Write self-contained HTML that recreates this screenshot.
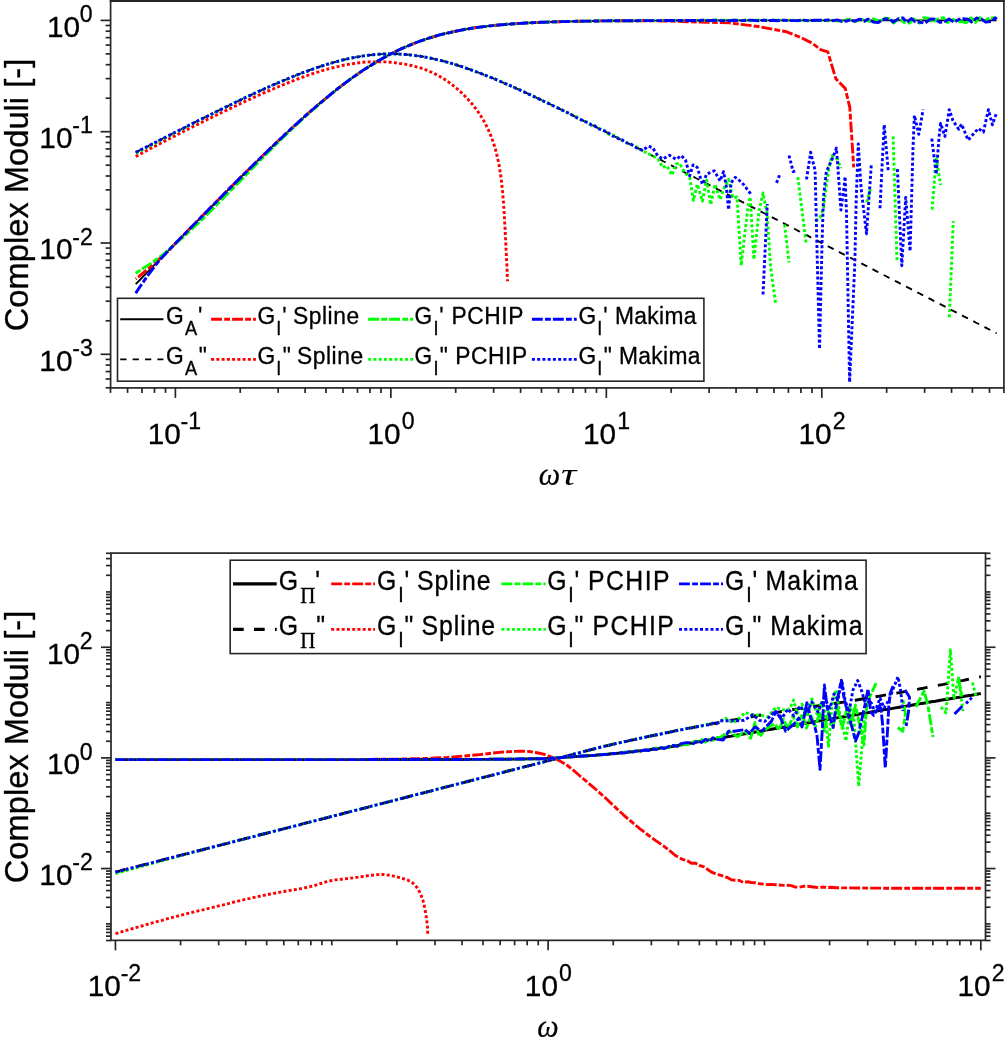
<!DOCTYPE html>
<html lang="en"><head><meta charset="utf-8"><title>Complex Moduli</title>
<style>html,body{margin:0;padding:0;background:#fff}svg{display:block}text{fill:#000;stroke:#000;stroke-width:0.3px;stroke-linejoin:round}</style></head><body>
<svg width="1006" height="1037" viewBox="0 0 1006 1037">
<rect x="0" y="0" width="1006" height="1037" fill="#fff"/>
<g id="curves-top">
<path d="M135.7 284.2 L138.7 281.1 L141.7 278 L144.7 274.9 L147.7 271.8 L150.7 268.8 L153.7 265.7 L156.7 262.6 L159.7 259.5 L162.7 256.5 L165.7 253.4 L168.7 250.3 L171.7 247.2 L174.7 244.2 L177.7 241.1 L180.7 238 L183.7 235 L186.7 231.9 L189.7 228.8 L192.7 225.8 L195.7 222.7 L198.7 219.7 L201.7 216.6 L204.7 213.6 L207.7 210.6 L210.7 207.5 L213.7 204.5 L216.7 201.5 L219.7 198.4 L222.7 195.4 L225.7 192.4 L228.7 189.4 L231.7 186.4 L234.7 183.4 L237.7 180.4 L240.7 177.4 L243.7 174.4 L246.7 171.5 L249.7 168.5 L252.7 165.6 L255.7 162.6 L258.7 159.7 L261.7 156.8 L264.7 153.9 L267.7 151 L270.7 148.1 L273.7 145.2 L276.7 142.4 L279.7 139.5 L282.7 136.7 L285.7 133.9 L288.7 131.1 L291.7 128.3 L294.7 125.5 L297.7 122.8 L300.7 120.1 L303.7 117.4 L306.7 114.7 L309.7 112.1 L312.7 109.5 L315.7 106.9 L318.7 104.3 L321.7 101.8 L324.7 99.3 L327.7 96.8 L330.7 94.3 L333.7 91.9 L336.7 89.5 L339.7 87.2 L342.7 84.9 L345.7 82.6 L348.7 80.4 L351.7 78.2 L354.7 76.1 L357.7 74 L360.7 71.9 L363.7 69.9 L366.7 68 L369.7 66.1 L372.7 64.2 L375.7 62.4 L378.7 60.6 L381.7 58.9 L384.7 57.2 L387.7 55.6 L390.7 54 L393.7 52.5 L396.7 51 L399.7 49.5 L402.7 48.2 L405.7 46.8 L408.7 45.6 L411.7 44.3 L414.7 43.1 L417.7 42 L420.7 40.9 L423.7 39.9 L426.7 38.8 L429.7 37.9 L432.7 37 L435.7 36.1 L438.7 35.2 L441.7 34.4 L444.7 33.7 L447.7 33 L450.7 32.3 L453.7 31.6 L456.7 31 L459.7 30.4 L462.7 29.8 L465.7 29.3 L468.7 28.8 L471.7 28.3 L474.7 27.8 L477.7 27.4 L480.7 27 L483.7 26.6 L486.7 26.3 L489.7 25.9 L492.7 25.6 L495.7 25.3 L498.7 25 L501.7 24.7 L504.7 24.5 L507.7 24.2 L510.7 24 L513.7 23.8 L516.7 23.6 L519.7 23.4 L522.7 23.2 L525.7 23 L528.7 22.9 L531.7 22.7 L534.7 22.6 L537.7 22.5 L540.7 22.3 L543.7 22.2 L546.7 22.1 L549.7 22 L552.7 21.9 L555.7 21.8 L558.7 21.7 L561.7 21.6 L564.7 21.6 L567.7 21.5 L570.7 21.4 L573.7 21.4 L576.7 21.3 L579.7 21.2 L582.7 21.2 L585.7 21.1 L588.7 21.1 L591.7 21.1 L594.7 21 L597.7 21 L600.7 20.9 L603.7 20.9 L606.7 20.9 L609.7 20.8 L612.7 20.8 L615.7 20.8 L618.7 20.8 L621.7 20.7 L624.7 20.7 L627.7 20.7 L630.7 20.7 L633.7 20.7 L636.7 20.7 L639.7 20.6 L642.7 20.6 L645.7 20.6 L648.7 20.6 L651.7 20.6 L654.7 20.6 L657.7 20.6 L660.7 20.6 L663.7 20.5 L666.7 20.5 L669.7 20.5 L672.7 20.5 L675.7 20.5 L678.7 20.5 L681.7 20.5 L684.7 20.5 L687.7 20.5 L690.7 20.5 L693.7 20.5 L696.7 20.5 L699.7 20.5 L702.7 20.5 L705.7 20.5 L708.7 20.5 L711.7 20.5 L714.7 20.4 L717.7 20.4 L720.7 20.4 L723.7 20.4 L726.7 20.4 L729.7 20.4 L732.7 20.4 L735.7 20.4 L738.7 20.4 L741.7 20.4 L744.7 20.4 L747.7 20.4 L750.7 20.4 L753.7 20.4 L756.7 20.4 L759.7 20.4 L762.7 20.4 L765.7 20.4 L768.7 20.4 L771.7 20.4 L774.7 20.4 L777.7 20.4 L780.7 20.4 L783.7 20.4 L786.7 20.4 L789.7 20.4 L792.7 20.4 L795.7 20.4 L798.7 20.4 L801.7 20.4 L804.7 20.4 L807.7 20.4 L810.7 20.4 L813.7 20.4 L816.7 20.4 L819.7 20.4 L822.7 20.4 L825.7 20.4 L828.7 20.4 L831.7 20.4 L834.7 20.4 L837.7 20.4 L840.7 20.4 L843.7 20.4 L846.7 20.4 L849.7 20.4 L852.7 20.4 L855.7 20.4 L858.7 20.4 L861.7 20.4 L864.7 20.4 L867.7 20.4 L870.7 20.4 L873.7 20.4 L876.7 20.4 L879.7 20.4 L882.7 20.4 L885.7 20.4 L888.7 20.4 L891.7 20.4 L894.7 20.4 L897.7 20.4 L900.7 20.4 L903.7 20.4 L906.7 20.4 L909.7 20.4 L912.7 20.4 L915.7 20.4 L918.7 20.4 L921.7 20.4 L924.7 20.4 L927.7 20.4 L930.7 20.4 L933.7 20.4 L936.7 20.4 L939.7 20.4 L942.7 20.4 L945.7 20.4 L948.7 20.4 L951.7 20.4 L954.7 20.4 L957.7 20.4 L960.7 20.4 L963.7 20.4 L966.7 20.4 L969.7 20.4 L972.7 20.4 L975.7 20.4 L978.7 20.4 L981.7 20.4 L984.7 20.4 L987.7 20.4 L990.7 20.4 L993.7 20.4 L996.6 20.4" fill="none" stroke="#000" stroke-width="1.9" stroke-linejoin="round"/>
<path d="M135.7 152.4 L138.7 150.9 L141.7 149.3 L144.7 147.8 L147.7 146.3 L150.7 144.7 L153.7 143.2 L156.7 141.7 L159.7 140.1 L162.7 138.6 L165.7 137.1 L168.7 135.6 L171.7 134 L174.7 132.5 L177.7 131 L180.7 129.5 L183.7 128 L186.7 126.5 L189.7 124.9 L192.7 123.4 L195.7 121.9 L198.7 120.4 L201.7 118.9 L204.7 117.4 L207.7 116 L210.7 114.5 L213.7 113 L216.7 111.5 L219.7 110 L222.7 108.6 L225.7 107.1 L228.7 105.6 L231.7 104.2 L234.7 102.7 L237.7 101.3 L240.7 99.9 L243.7 98.4 L246.7 97 L249.7 95.6 L252.7 94.2 L255.7 92.8 L258.7 91.4 L261.7 90.1 L264.7 88.7 L267.7 87.4 L270.7 86 L273.7 84.7 L276.7 83.4 L279.7 82.1 L282.7 80.8 L285.7 79.6 L288.7 78.3 L291.7 77.1 L294.7 75.9 L297.7 74.7 L300.7 73.5 L303.7 72.4 L306.7 71.3 L309.7 70.2 L312.7 69.1 L315.7 68.1 L318.7 67 L321.7 66 L324.7 65.1 L327.7 64.2 L330.7 63.3 L333.7 62.4 L336.7 61.6 L339.7 60.8 L342.7 60 L345.7 59.3 L348.7 58.6 L351.7 58 L354.7 57.4 L357.7 56.9 L360.7 56.4 L363.7 55.9 L366.7 55.5 L369.7 55.1 L372.7 54.8 L375.7 54.5 L378.7 54.3 L381.7 54.1 L384.7 54 L387.7 53.9 L390.7 53.9 L393.7 53.9 L396.7 54 L399.7 54.1 L402.7 54.3 L405.7 54.5 L408.7 54.8 L411.7 55.1 L414.7 55.5 L417.7 55.9 L420.7 56.3 L423.7 56.8 L426.7 57.4 L429.7 58 L432.7 58.6 L435.7 59.3 L438.7 60 L441.7 60.7 L444.7 61.5 L447.7 62.3 L450.7 63.2 L453.7 64.1 L456.7 65 L459.7 66 L462.7 66.9 L465.7 68 L468.7 69 L471.7 70.1 L474.7 71.2 L477.7 72.3 L480.7 73.4 L483.7 74.6 L486.7 75.8 L489.7 77 L492.7 78.2 L495.7 79.4 L498.7 80.7 L501.7 82 L504.7 83.3 L507.7 84.6 L510.7 85.9 L513.7 87.2 L516.7 88.6 L519.7 89.9 L522.7 91.3 L525.7 92.7 L528.7 94.1 L531.7 95.5 L534.7 96.9 L537.7 98.3 L540.7 99.7 L543.7 101.2 L546.7 102.6 L549.7 104 L552.7 105.5 L555.7 107 L558.7 108.4 L561.7 109.9 L564.7 111.4 L567.7 112.8 L570.7 114.3 L573.7 115.8 L576.7 117.3 L579.7 118.8 L582.7 120.3 L585.7 121.8 L588.7 123.3 L591.7 124.8 L594.7 126.3 L597.7 127.8 L600.7 129.3 L603.7 130.9 L606.7 132.4 L609.7 133.9 L612.7 135.4 L615.7 136.9 L618.7 138.5 L621.7 140 L624.7 141.5 L627.7 143 L630.7 144.6 L633.7 146.1 L636.7 147.6 L639.7 149.2 L642.7 150.7 L645.7 152.2 L648.7 153.8 L651.7 155.3 L654.7 156.9 L657.7 158.4 L660.7 159.9 L663.7 161.5 L666.7 163 L669.7 164.6 L672.7 166.1 L675.7 167.6 L678.7 169.2 L681.7 170.7 L684.7 172.3 L687.7 173.8 L690.7 175.4 L693.7 176.9 L696.7 178.5 L699.7 180 L702.7 181.5 L705.7 183.1 L708.7 184.6 L711.7 186.2 L714.7 187.7 L717.7 189.3 L720.7 190.8 L723.7 192.4 L726.7 193.9 L729.7 195.5 L732.7 197 L735.7 198.6 L738.7 200.1 L741.7 201.7 L744.7 203.2 L747.7 204.7 L750.7 206.3 L753.7 207.8 L756.7 209.4 L759.7 210.9 L762.7 212.5 L765.7 214 L768.7 215.6 L771.7 217.1 L774.7 218.7 L777.7 220.2 L780.7 221.8 L783.7 223.3 L786.7 224.9 L789.7 226.4 L792.7 228 L795.7 229.5 L798.7 231.1 L801.7 232.6 L804.7 234.2 L807.7 235.7 L810.7 237.3 L813.7 238.8 L816.7 240.4 L819.7 241.9 L822.7 243.5 L825.7 245 L828.7 246.6 L831.7 248.1 L834.7 249.7 L837.7 251.2 L840.7 252.8 L843.7 254.3 L846.7 255.9 L849.7 257.4 L852.7 259 L855.7 260.5 L858.7 262.1 L861.7 263.6 L864.7 265.2 L867.7 266.7 L870.7 268.3 L873.7 269.8 L876.7 271.4 L879.7 272.9 L882.7 274.5 L885.7 276 L888.7 277.6 L891.7 279.1 L894.7 280.7 L897.7 282.2 L900.7 283.8 L903.7 285.3 L906.7 286.9 L909.7 288.4 L912.7 289.9 L915.7 291.5 L918.7 293 L921.7 294.6 L924.7 296.1 L927.7 297.7 L930.7 299.2 L933.7 300.8 L936.7 302.3 L939.7 303.9 L942.7 305.4 L945.7 307 L948.7 308.5 L951.7 310.1 L954.7 311.6 L957.7 313.2 L960.7 314.7 L963.7 316.3 L966.7 317.8 L969.7 319.4 L972.7 320.9 L975.7 322.5 L978.7 324 L981.7 325.6 L984.7 327.1 L987.7 328.7 L990.7 330.2 L993.7 331.8 L996.6 333.3" fill="none" stroke="#000" stroke-width="1.9" stroke-linejoin="round" stroke-dasharray="6.6 6"/>
<path d="M135.7 279 L138.7 276.6 L141.7 274.2 L144.7 271.7 L147.7 269.2 L150.7 266.7 L153.7 264.1 L156.7 261.4 L159.7 258.7 L162.7 255.9 L165.7 253.1 L168.7 250.2 L171.7 247.2 L174.7 244.2 L177.7 241.1 L180.7 238 L183.7 235 L186.7 231.9 L189.7 228.8 L192.7 225.8 L195.7 222.7 L198.7 219.7 L201.7 216.6 L204.7 213.6 L207.7 210.6 L210.7 207.5 L213.7 204.5 L216.7 201.5 L219.7 198.4 L222.7 195.4 L225.7 192.4 L228.7 189.4 L231.7 186.4 L234.7 183.4 L237.7 180.4 L240.7 177.4 L243.7 174.4 L246.7 171.5 L249.7 168.5 L252.7 165.6 L255.7 162.6 L258.7 159.7 L261.7 156.8 L264.7 153.9 L267.7 151 L270.7 148.1 L273.7 145.2 L276.7 142.4 L279.7 139.5 L282.7 136.7 L285.7 133.9 L288.7 131.1 L291.7 128.3 L294.7 125.5 L297.7 122.8 L300.7 120.1 L303.7 117.4 L306.7 114.7 L309.7 112.1 L312.7 109.5 L315.7 106.9 L318.7 104.3 L321.7 101.8 L324.7 99.3 L327.7 96.8 L330.7 94.3 L333.7 91.9 L336.7 89.5 L339.7 87.2 L342.7 84.9 L345.7 82.6 L348.7 80.4 L351.7 78.2 L354.7 76.1 L357.7 74 L360.7 71.9 L363.7 69.9 L366.7 68 L369.7 66.1 L372.7 64.2 L375.7 62.4 L378.7 60.6 L381.7 58.9 L384.7 57.2 L387.7 55.6 L390.7 54 L393.7 52.5 L396.7 51 L399.7 49.5 L402.7 48.2 L405.7 46.8 L408.7 45.6 L411.7 44.3 L414.7 43.1 L417.7 42 L420.7 40.9 L423.7 39.9 L426.7 38.8 L429.7 37.9 L432.7 37 L435.7 36.1 L438.7 35.2 L441.7 34.4 L444.7 33.7 L447.7 33 L450.7 32.3 L453.7 31.6 L456.7 31 L459.7 30.4 L462.7 29.8 L465.7 29.3 L468.7 28.8 L471.7 28.3 L474.7 27.8 L477.7 27.4 L480.7 27 L483.7 26.6 L486.7 26.3 L489.7 25.9 L492.7 25.6 L495.7 25.3 L498.7 25 L501.7 24.7 L504.7 24.5 L507.7 24.2 L510.7 24 L513.7 23.8 L516.7 23.6 L519.7 23.4 L522.7 23.2 L525.7 23 L528.7 22.9 L531.7 22.7 L534.7 22.6 L537.7 22.5 L540.7 22.3 L543.7 22.2 L546.7 22.1 L549.7 22 L552.7 21.9 L555.7 21.8 L558.7 21.7 L561.7 21.6 L564.7 21.6 L567.7 21.5 L570.7 21.4 L573.7 21.4 L576.7 21.3 L579.7 21.2 L582.7 21.2 L585.7 21.1 L588.7 21.1 L591.7 21.1 L594.7 21 L597.7 21 L600.7 20.9 L603.7 20.9 L606.7 20.9 L609.7 20.8 L612.7 20.8 L615.7 20.8 L618.7 20.8 L621.7 20.7 L624.7 20.7 L627.7 20.7 L630.7 20.7 L633.7 20.7 L636.7 20.7 L639.7 20.6 L665 21 L690 21.8 L729.4 22.9 L758 26.5 L786.6 31.8 L800.9 37.6 L811.7 42.9 L820.6 49.7 L827.8 51.9 L835.8 78.7 L845.3 88.6 L849.8 107.4 L853.7 167.3" fill="none" stroke="#f00" stroke-width="2.9" stroke-linejoin="round" stroke-dasharray="10.9 2.2 5.8 2.1" stroke-dashoffset="-3"/>
<path d="M135.7 156.5 L138.8 154.9 L141.8 153.2 L144.9 151.6 L148 149.9 L151 148.3 L154.1 146.7 L157.2 145.1 L160.3 143.5 L163.4 141.8 L166.5 140.2 L169.5 138.6 L172.6 137 L175.7 135.5 L178.8 133.9 L181.9 132.3 L185 130.7 L188.1 129.1 L191.2 127.6 L194.3 126 L197.5 124.5 L200.6 122.9 L203.7 121.4 L206.8 119.8 L209.9 118.3 L213.1 116.8 L216.2 115.2 L219.3 113.7 L222.4 112.2 L225.6 110.7 L228.7 109.2 L231.9 107.7 L235 106.2 L238.1 104.7 L241.3 103.2 L244.4 101.8 L247.6 100.3 L250.8 98.9 L253.9 97.4 L257.1 96 L260.3 94.5 L263.4 93.1 L266.6 91.7 L269.8 90.3 L273 89 L276.2 87.6 L279.4 86.3 L282.7 85 L285.9 83.7 L289.1 82.4 L292.3 81.1 L295.6 79.8 L298.8 78.6 L302.1 77.4 L305.4 76.2 L308.6 75 L311.9 73.9 L315.2 72.8 L318.6 71.8 L321.9 70.7 L325.2 69.8 L328.6 68.8 L331.9 68 L335.3 67.1 L338.7 66.3 L342.1 65.5 L345.5 64.9 L348.9 64.3 L352.4 63.7 L355.8 63.2 L359.3 62.7 L362.7 62.3 L366.2 62 L369.7 61.9 L373.2 61.9 L376.6 61.9 L380.1 61.9 L383.6 61.9 L387.1 61.9 L390.5 62.2 L394 62.6 L397.5 63.1 L400.9 63.6 L404.3 64.1 L407.8 64.7 L411.2 65.5 L414.6 66.3 L417.9 67.2 L421.2 68.1 L424.5 69.3 L427.8 70.6 L431 72 L434.1 73.4 L437.2 75 L440.3 76.7 L443.3 78.5 L446.2 80.4 L449 82.4 L451.8 84.5 L454.5 86.6 L457.2 88.9 L459.8 91.2 L462.4 93.6 L464.8 96 L467.2 98.5 L469.6 101.1 L471.9 103.7 L474.1 106.5 L476.2 109.2 L478.2 112 L480.1 114.9 L482 117.9 L483.8 120.9 L485.5 124 L487 127.1 L488.5 130.2 L489.9 133.4 L491.2 136.6 L492.4 139.9 L493.5 143.2 L494.6 146.5 L495.6 149.9 L496.4 153.2 L497.2 156.6 L498 160 L498.7 163.4 L499.4 166.8 L499.9 170.3 L500.5 173.7 L500.9 177.2 L501.4 180.6 L501.8 184.1 L502.1 187.5 L502.5 191 L502.8 194.5 L503.1 197.9 L503.4 201.4 L503.6 204.9 L503.9 208.3 L504.1 211.8 L504.3 215.3 L504.5 218.8 L504.7 222.2 L504.9 225.7 L505.1 229.2 L505.2 232.7 L505.4 236.1 L505.6 239.6 L505.8 243.1 L505.9 246.5 L506.1 250 L506.3 253.5 L506.4 257 L506.6 260.4 L506.8 263.9 L506.9 267.4 L507.1 270.9 L507.2 274.3 L507.4 277.8 L507.5 281.3" fill="none" stroke="#f00" stroke-width="2.9" stroke-linejoin="round" stroke-dasharray="3 2.25"/>
<path d="M135.7 273.2 L138.7 271.2 L141.7 269.3 L144.7 267.3 L147.7 265.4 L150.7 263.4 L153.7 261.3 L156.7 259.1 L159.7 257 L162.7 254.9 L165.7 252.3 L168.7 249.7 L171.7 247 L174.7 244.4 L177.7 241.8 L180.7 239.2 L183.7 236.6 L186.7 233.9 L189.7 231.1 L192.7 228.3 L195.7 225.5 L198.7 222.8 L201.7 219.9 L204.7 216.9 L207.7 213.9 L210.7 210.9 L213.7 207.9 L216.7 204.8 L219.7 201.8 L222.7 198.7 L225.7 195.6 L228.7 192.6 L231.7 189.5 L234.7 186.5 L237.7 183.4 L240.7 180.4 L243.7 177.3 L246.7 174.2 L249.7 171.1 L252.7 168 L255.7 164.9 L258.7 161.8 L261.7 158.8 L264.7 155.8 L267.7 152.8 L270.7 149.8 L273.7 146.8 L276.7 143.8 L279.7 140.8 L282.7 137.9 L285.7 135 L288.7 132.1 L291.7 129.2 L294.7 126.4 L297.7 123.6 L300.7 120.8 L303.7 118.1 L306.7 115.3 L309.7 112.6 L312.7 109.9 L315.7 107.3 L318.7 104.6 L321.7 102 L324.7 99.5 L327.7 97 L330.7 94.5 L333.7 92 L336.7 89.6 L339.7 87.2 L342.7 84.9 L345.7 82.6 L348.7 80.4 L351.7 78.2 L354.7 76.1 L357.7 74 L360.7 71.9 L363.7 69.9 L366.7 68 L369.7 66.1 L372.7 64.2 L375.7 62.4 L378.7 60.6 L381.7 58.9 L384.7 57.2 L387.7 55.6 L390.7 54 L393.7 52.5 L396.7 51 L399.7 49.5 L402.7 48.2 L405.7 46.8 L408.7 45.6 L411.7 44.3 L414.7 43.1 L417.7 42 L420.7 40.9 L423.7 39.9 L426.7 38.8 L429.7 37.9 L432.7 37 L435.7 36.1 L438.7 35.2 L441.7 34.4 L444.7 33.7 L447.7 33 L450.7 32.3 L453.7 31.6 L456.7 31 L459.7 30.4 L462.7 29.8 L465.7 29.3 L468.7 28.8 L471.7 28.3 L474.7 27.8 L477.7 27.4 L480.7 27 L483.7 26.6 L486.7 26.3 L489.7 25.9 L492.7 25.6 L495.7 25.3 L498.7 25 L501.7 24.7 L504.7 24.5 L507.7 24.2 L510.7 24 L513.7 23.8 L516.7 23.6 L519.7 23.4 L522.7 23.2 L525.7 23 L528.7 22.9 L531.7 22.7 L534.7 22.6 L537.7 22.5 L540.7 22.3 L543.7 22.2 L546.7 22.1 L549.7 22 L552.7 21.9 L555.7 21.8 L558.7 21.7 L561.7 21.6 L564.7 21.6 L567.7 21.5 L570.7 21.4 L573.7 21.4 L576.7 21.3 L579.7 21.2 L582.7 21.2 L585.7 21.1 L588.7 21.1 L591.7 21.1 L594.7 21 L597.7 21 L600.7 20.9 L603.7 20.9 L606.7 20.9 L609.7 20.8 L612.7 20.8 L615.7 20.8 L618.7 20.8 L621.7 20.7 L624.7 20.7 L627.7 20.7 L630.7 20.7 L633.7 20.7 L636.7 20.7 L639.7 20.6 L642.7 20.6 L645.7 20.6 L648.7 20.6 L651.7 20.6 L654.7 20.6 L657.7 20.6 L660.7 20.6 L663.7 20.5 L666.7 20.5 L669.7 20.5 L672.7 20.5 L675.7 20.5 L678.7 20.5 L681.7 20.5 L684.7 20.5 L687.7 20.5 L690.7 20.5 L693.7 20.5 L696.7 20.5 L699.7 20.5 L704 20.3 L708.7 20.7 L713.4 20.2 L719.2 20.1 L723 20.1 L726.9 20.6 L730.7 20.3 L736.1 20.2 L740.4 20.6 L745.7 20.3 L750.4 20.8 L755.7 20.1 L761.5 20.2 L765.6 20.3 L770.1 20.6 L773.7 20.1 L779.5 20.1 L784.5 20.6 L789.1 20.3 L792.7 20.2 L797.9 20.8 L802.4 20.1 L807.8 20.8 L812.9 20.6 L818.3 20.6 L823.3 20.2 L827 20.8 L831.6 19.9 L836.2 20.7 L841.7 21.2 L847.4 19.5 L851.3 19.7 L855.9 21.5 L861.1 19.5 L865.1 19.5 L869.7 21.4 L873.4 18.7 L879.4 21.5 L884.5 18.2 L889.4 18.8 L893.6 23.1 L898.9 18.5 L904 22.4 L909.9 23 L913.7 18.8 L919.5 23.2 L923.6 17.6 L928.6 18.4 L932.7 22.3 L937.4 19.2 L943.3 17.6 L947.7 22.4 L953 19.4 L957.1 21.4 L962.7 21.8 L966.3 22.8 L971 17.7 L975.4 22.5 L979.6 17.6 L984 21.4 L989.6 17.6 L994.9 17.9 L996.6 19.1" fill="none" stroke="#0f0" stroke-width="2.9" stroke-linejoin="round" stroke-dasharray="10.9 2.2 5.8 2.1" stroke-dashoffset="-7.7"/>
<path d="M135.7 153.3 L138.7 151.7 L141.7 150.2 L144.7 148.6 L147.7 147 L150.7 145.5 L153.7 143.9 L156.7 142.4 L159.7 140.8 L162.7 139.2 L165.7 137.7 L168.7 136.1 L171.7 134.6 L174.7 133 L177.7 131.5 L180.7 130 L183.7 128.4 L186.7 126.9 L189.7 125.3 L192.7 123.8 L195.7 122.3 L198.7 120.7 L201.7 119.2 L204.7 117.7 L207.7 116.2 L210.7 114.6 L213.7 113.1 L216.7 111.6 L219.7 110.1 L222.7 108.6 L225.7 107.1 L228.7 105.7 L231.7 104.2 L234.7 102.7 L237.7 101.3 L240.7 99.9 L243.7 98.4 L246.7 97 L249.7 95.6 L252.7 94.2 L255.7 92.8 L258.7 91.4 L261.7 90.1 L264.7 88.7 L267.7 87.4 L270.7 86 L273.7 84.7 L276.7 83.4 L279.7 82.1 L282.7 80.8 L285.7 79.6 L288.7 78.3 L291.7 77.1 L294.7 75.9 L297.7 74.7 L300.7 73.5 L303.7 72.4 L306.7 71.3 L309.7 70.2 L312.7 69.1 L315.7 68.1 L318.7 67 L321.7 66 L324.7 65.1 L327.7 64.2 L330.7 63.3 L333.7 62.4 L336.7 61.6 L339.7 60.8 L342.7 60 L345.7 59.3 L348.7 58.6 L351.7 58 L354.7 57.4 L357.7 56.9 L360.7 56.4 L363.7 55.9 L366.7 55.5 L369.7 55.1 L372.7 54.8 L375.7 54.5 L378.7 54.3 L381.7 54.1 L384.7 54 L387.7 53.9 L390.7 53.9 L393.7 53.9 L396.7 54 L399.7 54.1 L402.7 54.3 L405.7 54.5 L408.7 54.8 L411.7 55.1 L414.7 55.5 L417.7 55.9 L420.7 56.3 L423.7 56.8 L426.7 57.4 L429.7 58 L432.7 58.6 L435.7 59.3 L438.7 60 L441.7 60.7 L444.7 61.5 L447.7 62.3 L450.7 63.2 L453.7 64.1 L456.7 65 L459.7 66 L462.7 66.9 L465.7 68 L468.7 69 L471.7 70.1 L474.7 71.2 L477.7 72.3 L480.7 73.4 L483.7 74.6 L486.7 75.8 L489.7 77 L492.7 78.2 L495.7 79.4 L498.7 80.7 L501.7 82 L504.7 83.3 L507.7 84.6 L510.7 85.9 L513.7 87.2 L516.7 88.6 L519.7 89.9 L522.7 91.3 L525.7 92.7 L528.7 94.1 L531.7 95.5 L534.7 96.9 L537.7 98.3 L540.7 99.7 L543.7 101.2 L546.7 102.6 L549.7 104 L552.7 105.5 L555.7 107 L558.7 108.4 L561.7 109.9 L564.7 111.4 L567.7 112.8 L570.7 114.4 L573.7 115.5 L576.7 117 L579.7 119 L582.7 120.7 L585.7 121.5 L588.7 123.9 L591.7 125.2 L594.7 125.8 L597.7 127.9 L600.7 129 L603.7 130.2 L606.7 132.9 L609.7 134.8 L612.7 134.9 L615.7 136.1 L618.7 138.7 L621.7 140.4 L624.7 141.1 L627.7 143.4 L630.7 144.6 L633.7 145.2 L636.7 146.9 L639.7 148.5 L642.7 151.7 L645.7 152.3 L648.7 153.9 L651.7 155.8 L654.7 156.9 L657.6 158.2 L662.7 167.5 L666.9 165.8 L672 175.1 L676.2 164.1 L679.6 163.2 L684.6 172.5 L689.7 177.6 L693.4 200.4 L697.3 184.3 L702.4 201.2 L706.6 180.1 L710.8 204.6 L715 184.3 L720.1 199.6 L723.5 189.4 L728.6 179.3 L732.8 197.9 L737 197 L741.2 265.5 L748 206.3 L750.2 197 L753.9 259.5 L759 211.4 L763 193 L767.1 213.5 L770.6 267 L775.6 303.5" fill="none" stroke="#0f0" stroke-width="2.9" stroke-linejoin="round" stroke-dasharray="3 2.25"/>
<path d="M784.6 224.5 L789 262.5" fill="none" stroke="#0f0" stroke-width="2.9" stroke-linejoin="round" stroke-dasharray="3 2.25"/>
<path d="M797.8 177 L806.3 244.8" fill="none" stroke="#0f0" stroke-width="2.9" stroke-linejoin="round" stroke-dasharray="3 2.25"/>
<path d="M815.8 221.1 L820 217.7 L823.5 207.9 L826.3 185.7 L829.1 167.6 L831.8 155.7 L837.4 159.2 L840.9 168.3" fill="none" stroke="#0f0" stroke-width="2.9" stroke-linejoin="round" stroke-dasharray="3 2.25"/>
<path d="M866.7 202.4 L870.8 188" fill="none" stroke="#0f0" stroke-width="2.9" stroke-linejoin="round" stroke-dasharray="3 2.25"/>
<path d="M893.1 136.4 L897 261.4" fill="none" stroke="#0f0" stroke-width="2.9" stroke-linejoin="round" stroke-dasharray="3 2.25"/>
<path d="M932.1 209.7 L936.2 157.5 L940.6 185.1" fill="none" stroke="#0f0" stroke-width="2.9" stroke-linejoin="round" stroke-dasharray="3 2.25"/>
<path d="M949.3 317.2 L953.3 221" fill="none" stroke="#0f0" stroke-width="2.9" stroke-linejoin="round" stroke-dasharray="3 2.25"/>
<path d="M135.7 293.2 L138.7 288.6 L141.7 284.2 L144.7 279.9 L147.7 275.7 L150.7 271.6 L153.7 267.6 L156.7 263.8 L159.7 260.2 L162.7 256.7 L165.7 253.4 L168.7 250.3 L171.7 247.2 L174.7 244.2 L177.7 241.1 L180.7 238 L183.7 235 L186.7 231.9 L189.7 228.8 L192.7 225.8 L195.7 222.7 L198.7 219.7 L201.7 216.6 L204.7 213.6 L207.7 210.6 L210.7 207.5 L213.7 204.5 L216.7 201.5 L219.7 198.4 L222.7 195.4 L225.7 192.4 L228.7 189.4 L231.7 186.4 L234.7 183.4 L237.7 180.4 L240.7 177.4 L243.7 174.4 L246.7 171.5 L249.7 168.5 L252.7 165.6 L255.7 162.6 L258.7 159.7 L261.7 156.8 L264.7 153.9 L267.7 151 L270.7 148.1 L273.7 145.2 L276.7 142.4 L279.7 139.5 L282.7 136.7 L285.7 133.9 L288.7 131.1 L291.7 128.3 L294.7 125.5 L297.7 122.8 L300.7 120.1 L303.7 117.4 L306.7 114.7 L309.7 112.1 L312.7 109.5 L315.7 106.9 L318.7 104.3 L321.7 101.8 L324.7 99.3 L327.7 96.8 L330.7 94.3 L333.7 91.9 L336.7 89.5 L339.7 87.2 L342.7 84.9 L345.7 82.6 L348.7 80.4 L351.7 78.2 L354.7 76.1 L357.7 74 L360.7 71.9 L363.7 69.9 L366.7 68 L369.7 66.1 L372.7 64.2 L375.7 62.4 L378.7 60.6 L381.7 58.9 L384.7 57.2 L387.7 55.6 L390.7 54 L393.7 52.5 L396.7 51 L399.7 49.5 L402.7 48.2 L405.7 46.8 L408.7 45.6 L411.7 44.3 L414.7 43.1 L417.7 42 L420.7 40.9 L423.7 39.9 L426.7 38.8 L429.7 37.9 L432.7 37 L435.7 36.1 L438.7 35.2 L441.7 34.4 L444.7 33.7 L447.7 33 L450.7 32.3 L453.7 31.6 L456.7 31 L459.7 30.4 L462.7 29.8 L465.7 29.3 L468.7 28.8 L471.7 28.3 L474.7 27.8 L477.7 27.4 L480.7 27 L483.7 26.6 L486.7 26.3 L489.7 25.9 L492.7 25.6 L495.7 25.3 L498.7 25 L501.7 24.7 L504.7 24.5 L507.7 24.2 L510.7 24 L513.7 23.8 L516.7 23.6 L519.7 23.4 L522.7 23.2 L525.7 23 L528.7 22.9 L531.7 22.7 L534.7 22.6 L537.7 22.5 L540.7 22.3 L543.7 22.2 L546.7 22.1 L549.7 22 L552.7 21.9 L555.7 21.8 L558.7 21.7 L561.7 21.6 L564.7 21.6 L567.7 21.5 L570.7 21.4 L573.7 21.4 L576.7 21.3 L579.7 21.2 L582.7 21.2 L585.7 21.1 L588.7 21.1 L591.7 21.1 L594.7 21 L597.7 21 L600.7 20.9 L603.7 20.9 L606.7 20.9 L609.7 20.8 L612.7 20.8 L615.7 20.8 L618.7 20.8 L621.7 20.7 L624.7 20.7 L627.7 20.7 L630.7 20.7 L633.7 20.7 L636.7 20.7 L639.7 20.6 L642.7 20.6 L645.7 20.6 L648.7 20.6 L651.7 20.6 L654.7 20.6 L657.7 20.6 L660.7 20.6 L663.7 20.5 L666.7 20.5 L669.7 20.5 L672.7 20.5 L675.7 20.5 L678.7 20.5 L681.7 20.5 L684.7 20.5 L687.7 20.5 L690.7 20.5 L693.7 20.5 L696.7 20.5 L699.7 20.5 L704 20.1 L709.4 20.6 L714.6 20.2 L719.7 20.6 L725.4 20.6 L730.4 20.8 L734 20.2 L739.6 20.6 L743.1 20.6 L747.6 20.1 L752.2 20.1 L756 20.6 L759.7 20.7 L763.6 20.1 L769 20.7 L773 20.2 L777.5 20.8 L783.2 20.1 L788.8 20.6 L793.5 20.6 L797.5 20.6 L803.3 20.1 L809.2 20.7 L815.1 20.2 L820.4 20.2 L824.1 20.5 L827.7 19.9 L833.2 20.7 L837.1 19.9 L841.8 21.3 L846.8 21.1 L850.5 19.6 L854 21.3 L859.7 19.2 L864.6 21.3 L868.1 19.1 L873.3 22.1 L878.3 22.5 L883.1 19.5 L889 18.5 L893.2 22.1 L898.2 18.9 L902.7 17.8 L906.9 22.3 L911.4 18.5 L915.1 21.7 L921 22.3 L924.9 23.1 L930.8 18.9 L934.7 19.2 L939.7 22.4 L945.2 21.4 L949 18.9 L953.9 22.2 L959.1 19.3 L962.9 18.8 L968 19.2 L971.6 22 L976.4 18 L981.5 19.1 L985.6 22.1 L991.5 21.6 L995.3 17.9 L996.6 19.3" fill="none" stroke="#00f" stroke-width="2.9" stroke-linejoin="round" stroke-dasharray="10.9 2.2 5.8 2.1"/>
<path d="M135.7 152.4 L138.7 150.9 L141.7 149.3 L144.7 147.8 L147.7 146.3 L150.7 144.7 L153.7 143.2 L156.7 141.7 L159.7 140.1 L162.7 138.6 L165.7 137.1 L168.7 135.6 L171.7 134 L174.7 132.5 L177.7 131 L180.7 129.5 L183.7 128 L186.7 126.5 L189.7 124.9 L192.7 123.4 L195.7 121.9 L198.7 120.4 L201.7 118.9 L204.7 117.4 L207.7 116 L210.7 114.5 L213.7 113 L216.7 111.5 L219.7 110 L222.7 108.6 L225.7 107.1 L228.7 105.6 L231.7 104.2 L234.7 102.7 L237.7 101.3 L240.7 99.9 L243.7 98.4 L246.7 97 L249.7 95.6 L252.7 94.2 L255.7 92.8 L258.7 91.4 L261.7 90.1 L264.7 88.7 L267.7 87.4 L270.7 86 L273.7 84.7 L276.7 83.4 L279.7 82.1 L282.7 80.8 L285.7 79.6 L288.7 78.3 L291.7 77.1 L294.7 75.9 L297.7 74.7 L300.7 73.5 L303.7 72.4 L306.7 71.3 L309.7 70.2 L312.7 69.1 L315.7 68.1 L318.7 67 L321.7 66 L324.7 65.1 L327.7 64.2 L330.7 63.3 L333.7 62.4 L336.7 61.6 L339.7 60.8 L342.7 60 L345.7 59.3 L348.7 58.6 L351.7 58 L354.7 57.4 L357.7 56.9 L360.7 56.4 L363.7 55.9 L366.7 55.5 L369.7 55.1 L372.7 54.8 L375.7 54.5 L378.7 54.3 L381.7 54.1 L384.7 54 L387.7 53.9 L390.7 53.9 L393.7 53.9 L396.7 54 L399.7 54.1 L402.7 54.3 L405.7 54.5 L408.7 54.8 L411.7 55.1 L414.7 55.5 L417.7 55.9 L420.7 56.3 L423.7 56.8 L426.7 57.4 L429.7 58 L432.7 58.6 L435.7 59.3 L438.7 60 L441.7 60.7 L444.7 61.5 L447.7 62.3 L450.7 63.2 L453.7 64.1 L456.7 65 L459.7 66 L462.7 66.9 L465.7 68 L468.7 69 L471.7 70.1 L474.7 71.2 L477.7 72.3 L480.7 73.4 L483.7 74.6 L486.7 75.8 L489.7 77 L492.7 78.2 L495.7 79.4 L498.7 80.7 L501.7 82 L504.7 83.3 L507.7 84.6 L510.7 85.9 L513.7 87.2 L516.7 88.6 L519.7 89.9 L522.7 91.3 L525.7 92.7 L528.7 94.1 L531.7 95.5 L534.7 96.9 L537.7 98.3 L540.7 99.7 L543.7 101.2 L546.7 102.6 L549.7 104 L552.7 105.5 L555.7 107 L558.7 108.4 L561.7 109.9 L564.7 111.4 L567.7 112.7 L570.7 114.2 L573.7 116.1 L576.7 117.7 L579.7 119.3 L582.7 120.4 L585.7 121.9 L588.7 122.7 L591.7 125.3 L594.7 125.8 L597.7 128.7 L600.7 129.4 L603.7 130.7 L606.7 131.5 L609.7 133.8 L612.7 136.2 L615.7 136.8 L618.7 138.9 L621.7 139.4 L624.7 142.3 L627.7 143.2 L630.7 144 L633.7 146 L636.7 148.1 L639.7 149.1 L642.7 150.3 L648.3 146.3 L652.5 147.5 L657.6 155.6 L662.7 159 L669.4 155.3 L676.2 159.3 L681.2 155.6 L685.5 159.8 L689.7 175.9 L693.1 164.9 L697.3 167.5 L702.4 184.3 L706.6 174.2 L714.2 170.8 L720.1 181 L723.5 171.7 L726 184.3 L728.6 209.7 L731.1 182.7 L735.3 177.3 L742.1 182.7 L750.5 193.6 L751.5 195" fill="none" stroke="#00f" stroke-width="2.9" stroke-linejoin="round" stroke-dasharray="3 2.25"/>
<path d="M763 294.5 L767.3 204" fill="none" stroke="#00f" stroke-width="2.9" stroke-linejoin="round" stroke-dasharray="3 2.25"/>
<path d="M776.5 182.9 L780.4 173.1" fill="none" stroke="#00f" stroke-width="2.9" stroke-linejoin="round" stroke-dasharray="3 2.25"/>
<path d="M789 155.5 L793.2 171.7 L796.4 170.4" fill="none" stroke="#00f" stroke-width="2.9" stroke-linejoin="round" stroke-dasharray="3 2.25"/>
<path d="M806.5 179.4 L810.6 152.3 L815.1 170.4 L816.3 220.5 L819.5 349 L822.1 241.3 L823.5 196.8 L826.3 171.7 L831.8 159.9 L836.4 148.1 L838.1 170.4 L840.9 210 L843.7 189.8 L845.1 176.6 L846.5 213.5 L849.6 382.2 L854.8 263.6 L856.2 199.6 L858.3 143.9 L861.1 188.4 L866.5 233.7 L869.4 192.6 L871.4 163.2" fill="none" stroke="#00f" stroke-width="2.9" stroke-linejoin="round" stroke-dasharray="3 2.25"/>
<path d="M880 208.3 L881.8 171.3 L884.2 124.8 L888.3 171.3" fill="none" stroke="#00f" stroke-width="2.9" stroke-linejoin="round" stroke-dasharray="3 2.25"/>
<path d="M897.4 169.1 L901.8 265.7 L905.7 197.4 L910.1 251.2 L913 148 L914.4 115.4 L918.8 134.3 L923.1 109.6" fill="none" stroke="#00f" stroke-width="2.9" stroke-linejoin="round" stroke-dasharray="3 2.25"/>
<path d="M931.8 138.6 L936.2 174.2 L939.1 136.4 L940.6 123.4 L944.9 136.4 L949.3 109.6 L952.9 120.5 L958.7 129.2 L961.6 124.1 L968.1 140.1 L978.3 128.5 L983.4 132.1 L988.4 109.6 L992.4 124.8 L996.4 113.2" fill="none" stroke="#00f" stroke-width="2.9" stroke-linejoin="round" stroke-dasharray="3 2.25"/>
</g>
<g id="curves-bottom">
<path d="M115.4 759.6 L119.4 759.6 L123.4 759.6 L127.4 759.6 L131.4 759.6 L135.4 759.6 L139.4 759.6 L143.4 759.6 L147.4 759.6 L151.4 759.6 L155.4 759.6 L159.4 759.6 L163.4 759.6 L167.4 759.6 L171.4 759.6 L175.4 759.6 L179.4 759.6 L183.4 759.6 L187.4 759.6 L191.4 759.6 L195.4 759.6 L199.4 759.6 L203.4 759.6 L207.4 759.6 L211.4 759.6 L215.4 759.6 L219.4 759.6 L223.4 759.6 L227.4 759.6 L231.4 759.6 L235.4 759.6 L239.4 759.6 L243.4 759.6 L247.4 759.6 L251.4 759.6 L255.4 759.6 L259.4 759.6 L263.4 759.6 L267.4 759.6 L271.4 759.6 L275.4 759.6 L279.4 759.6 L283.4 759.6 L287.4 759.6 L291.4 759.6 L295.4 759.6 L299.4 759.6 L303.4 759.6 L307.4 759.6 L311.4 759.6 L315.4 759.6 L319.4 759.6 L323.4 759.6 L327.4 759.6 L331.4 759.6 L335.4 759.6 L339.4 759.6 L343.4 759.6 L347.4 759.6 L351.4 759.6 L355.4 759.6 L359.4 759.6 L363.4 759.6 L367.4 759.5 L371.4 759.5 L375.4 759.5 L379.4 759.5 L383.4 759.5 L387.4 759.5 L391.4 759.5 L395.4 759.5 L399.4 759.5 L403.4 759.5 L407.4 759.5 L411.4 759.5 L415.4 759.5 L419.4 759.5 L423.4 759.5 L427.4 759.5 L431.4 759.5 L435.4 759.5 L439.4 759.5 L443.4 759.5 L447.4 759.5 L451.4 759.5 L455.4 759.5 L459.4 759.5 L463.4 759.5 L467.4 759.5 L471.4 759.4 L475.4 759.4 L479.4 759.4 L483.4 759.4 L487.4 759.4 L491.4 759.3 L495.4 759.3 L499.4 759.2 L503.4 759.2 L507.4 759.2 L511.4 759.1 L515.4 759.1 L519.4 759 L523.4 759 L527.4 758.9 L531.4 758.8 L535.4 758.8 L539.4 758.7 L543.4 758.6 L547.4 758.4 L551.4 758.2 L555.4 758 L559.4 757.7 L563.4 757.4 L567.4 757.1 L571.4 756.8 L575.4 756.6 L579.4 756.3 L583.4 756 L587.4 755.7 L591.4 755.5 L595.4 755.2 L599.4 754.8 L603.4 754.5 L607.4 754.2 L611.4 753.8 L615.4 753.5 L619.4 753.1 L623.4 752.7 L627.4 752.3 L631.4 751.8 L635.4 751.4 L639.4 750.9 L643.4 750.5 L647.4 750 L651.4 749.5 L655.4 749 L659.4 748.4 L663.4 747.9 L667.4 747.3 L671.4 746.6 L675.4 746 L679.4 745.2 L683.4 744.5 L687.4 743.7 L691.4 743 L695.4 742.2 L699.4 741.5 L703.4 740.8 L707.4 740.1 L711.4 739.5 L715.4 738.8 L719.4 738.1 L723.4 737.4 L727.4 736.7 L731.4 736.1 L735.4 735.4 L739.4 734.7 L743.4 734 L747.4 733.3 L751.4 732.7 L755.4 732 L759.4 731.3 L763.4 730.6 L767.4 729.9 L771.4 729.2 L775.4 728.5 L779.4 727.9 L783.4 727.2 L787.4 726.5 L791.4 725.8 L795.4 725.1 L799.4 724.4 L803.4 723.7 L807.4 723 L811.4 722.3 L815.4 721.6 L819.4 720.9 L823.4 720.2 L827.4 719.5 L831.4 718.8 L835.4 718.1 L839.4 717.4 L843.4 716.8 L847.4 716.1 L851.4 715.4 L855.4 714.7 L859.4 714 L863.4 713.3 L867.4 712.7 L871.4 712 L875.4 711.3 L879.4 710.6 L883.4 709.9 L887.4 709.3 L891.4 708.6 L895.4 707.9 L899.4 707.2 L903.4 706.6 L907.4 705.9 L911.4 705.2 L915.4 704.5 L919.4 703.9 L923.4 703.2 L927.4 702.5 L931.4 701.8 L935.4 701.2 L939.4 700.5 L943.4 699.8 L947.4 699.2 L951.4 698.5 L955.4 697.8 L959.4 697.2 L963.4 696.5 L967.4 695.8 L971.4 695.2 L975.4 694.5 L979.4 693.8 L980.9 693.6" fill="none" stroke="#000" stroke-width="2.9" stroke-linejoin="round"/>
<path d="M115.4 872.1 L119.4 871.1 L123.4 870 L127.4 869 L131.4 868 L135.4 867 L139.4 865.9 L143.4 864.9 L147.4 863.9 L151.4 862.8 L155.4 861.8 L159.4 860.8 L163.4 859.7 L167.4 858.7 L171.4 857.7 L175.4 856.7 L179.4 855.6 L183.4 854.6 L187.4 853.6 L191.4 852.5 L195.4 851.5 L199.4 850.5 L203.4 849.5 L207.4 848.4 L211.4 847.4 L215.4 846.4 L219.4 845.3 L223.4 844.3 L227.4 843.3 L231.4 842.3 L235.4 841.2 L239.4 840.2 L243.4 839.2 L247.4 838.1 L251.4 837.1 L255.4 836.1 L259.4 835 L263.4 834 L267.4 833 L271.4 832 L275.4 830.9 L279.4 829.9 L283.4 828.9 L287.4 827.8 L291.4 826.8 L295.4 825.8 L299.4 824.8 L303.4 823.7 L307.4 822.7 L311.4 821.7 L315.4 820.6 L319.4 819.6 L323.4 818.6 L327.4 817.6 L331.4 816.5 L335.4 815.5 L339.4 814.5 L343.4 813.4 L347.4 812.4 L351.4 811.4 L355.4 810.3 L359.4 809.3 L363.4 808.3 L367.4 807.3 L371.4 806.2 L375.4 805.2 L379.4 804.2 L383.4 803.1 L387.4 802.1 L391.4 801.1 L395.4 800.1 L399.4 799 L403.4 798 L407.4 797 L411.4 795.9 L415.4 794.9 L419.4 793.9 L423.4 792.9 L427.4 791.8 L431.4 790.8 L435.4 789.8 L439.4 788.7 L443.4 787.7 L447.4 786.7 L451.4 785.6 L455.4 784.6 L459.4 783.6 L463.4 782.6 L467.4 781.5 L471.4 780.5 L475.4 779.5 L479.4 778.4 L483.4 777.4 L487.4 776.4 L491.4 775.4 L495.4 774.3 L499.4 773.3 L503.4 772.3 L507.4 771.2 L511.4 770.2 L515.4 769.2 L519.4 768.1 L523.4 767.1 L527.4 766.1 L531.4 765.1 L535.4 764 L539.4 763 L543.4 762 L547.4 760.9 L551.4 759.9 L555.4 758.9 L559.4 757.9 L563.4 756.8 L567.4 755.8 L571.4 754.8 L575.4 753.7 L579.4 752.7 L583.4 751.6 L587.4 750.6 L591.4 749.6 L595.4 748.5 L599.4 747.5 L603.4 746.5 L607.4 745.6 L611.4 744.7 L615.4 743.7 L619.4 742.8 L623.4 741.9 L627.4 741.1 L631.4 740.2 L635.4 739.3 L639.4 738.4 L643.4 737.6 L647.4 736.7 L651.4 735.9 L655.4 735 L659.4 734.2 L663.4 733.4 L667.4 732.6 L671.4 731.7 L675.4 730.9 L679.4 730.1 L683.4 729.3 L687.4 728.5 L691.4 727.8 L695.4 727 L699.4 726.2 L703.4 725.5 L707.4 724.7 L711.4 724 L715.4 723.2 L719.4 722.5 L723.4 721.8 L727.4 721 L731.4 720.3 L735.4 719.6 L739.4 718.8 L743.4 718.1 L747.4 717.4 L751.4 716.7 L755.4 716 L759.4 715.3 L763.4 714.6 L767.4 713.9 L771.4 713.2 L775.4 712.6 L779.4 711.9 L783.4 711.2 L787.4 710.5 L791.4 709.9 L795.4 709.2 L799.4 708.6 L803.4 708 L807.4 707.4 L811.4 706.8 L815.4 706.2 L819.4 705.6 L823.4 705 L827.4 704.5 L831.4 703.9 L835.4 703.3 L839.4 702.7 L843.4 702.1 L847.4 701.5 L851.4 700.8 L855.4 700.2 L859.4 699.5 L863.4 698.8 L867.4 698.2 L871.4 697.5 L875.4 696.8 L879.4 696.1 L883.4 695.4 L887.4 694.7 L891.4 694 L895.4 693.3 L899.4 692.6 L903.4 691.9 L907.4 691.2 L911.4 690.4 L915.4 689.7 L919.4 688.9 L923.4 688.2 L927.4 687.4 L931.4 686.7 L935.4 685.9 L939.4 685.1 L943.4 684.4 L947.4 683.6 L951.4 682.8 L955.4 682 L959.4 681.2 L963.4 680.4 L967.4 679.5 L971.4 678.7 L975.4 677.9 L979.4 677 L980.9 676.7" fill="none" stroke="#000" stroke-width="2.9" stroke-linejoin="round" stroke-dasharray="10.6 10.5"/>
<path d="M115.4 759.6 L119.4 759.6 L123.4 759.6 L127.4 759.6 L131.4 759.6 L135.4 759.6 L139.4 759.6 L143.4 759.6 L147.4 759.6 L151.4 759.6 L155.4 759.6 L159.4 759.6 L163.4 759.6 L167.4 759.6 L171.4 759.6 L175.4 759.6 L179.4 759.6 L183.4 759.6 L187.4 759.6 L191.4 759.6 L195.4 759.6 L199.4 759.6 L203.4 759.6 L207.4 759.6 L211.4 759.6 L215.4 759.6 L219.4 759.6 L223.4 759.6 L227.4 759.6 L231.4 759.6 L235.4 759.6 L239.4 759.6 L243.4 759.6 L247.4 759.6 L251.4 759.6 L255.4 759.6 L259.4 759.6 L263.4 759.6 L267.4 759.6 L271.4 759.6 L275.4 759.6 L279.4 759.6 L283.4 759.6 L287.4 759.6 L291.4 759.6 L295.4 759.6 L299.4 759.6 L303.4 759.6 L307.4 759.6 L311.4 759.6 L315.4 759.6 L319.4 759.6 L323.4 759.6 L327.4 759.6 L331.4 759.5 L335.4 759.5 L339.4 759.5 L343.4 759.5 L347.4 759.5 L351.4 759.5 L355.4 759.4 L359.4 759.4 L363.4 759.4 L367.4 759.4 L371.4 759.4 L375.4 759.3 L379.4 759.3 L383.4 759.3 L387.4 759.2 L391.4 759.2 L395.4 759.1 L399.4 759.1 L403.4 759 L407.4 758.9 L411.4 758.8 L415.4 758.7 L419.4 758.6 L423.4 758.5 L427.4 758.4 L431.4 758.2 L435.4 758 L439.4 757.8 L443.4 757.6 L447.4 757.4 L451.4 757.1 L455.4 756.8 L459.4 756.4 L463.4 756.1 L467.4 755.7 L471.4 755.4 L475.4 755 L479.4 754.6 L483.4 754.2 L487.4 753.7 L491.4 753.2 L495.4 752.8 L499.4 752.4 L503.4 752 L507.4 751.8 L511.4 751.6 L515.4 751.4 L519.4 751.2 L523.4 751.2 L527.4 751.4 L531.4 751.8 L535.4 752.5 L539.4 753.2 L543.4 754.2 L547.4 755.6 L551.4 757.1 L555.4 758.8 L559.4 760.7 L563.4 762.9 L567.4 765.5 L571.4 768.6 L575.4 772 L579.4 775.5 L583.4 778.8 L587.4 782.2 L591.4 785.6 L595.4 789 L599.4 792.6 L603.4 796.1 L607.4 799.8 L611.4 803.6 L615.4 807.4 L619.4 811.1 L623.4 814.8 L627.4 818.3 L631.4 821.7 L635.4 825 L639.4 828.3 L643.4 831.4 L647.4 834.5 L651.4 837.5 L655.4 840.4 L659.4 843.1 L663.4 845.8 L667.4 848.8 L671.4 852.2 L675.4 855.5 L679.4 857.9 L683.4 859.7 L687.4 860.7 L691.4 863.2 L695.4 863.1 L699.4 865.5 L703.4 866.6 L707.4 869.3 L711.4 872.1 L715.4 873.7 L719.4 874.9 L723.4 876.3 L727.4 877.5 L731.4 879.8 L735.4 880.3 L739.4 880.5 L743.4 882.4 L747.4 881.8 L751.4 882.5 L755.4 882.7 L759.4 883.8 L763.4 884.1 L767.4 884.6 L771.4 884.4 L775.4 884.7 L779.4 885 L783.4 885.4 L787.4 885.3 L791.4 885.6 L795.4 887.1 L799.4 887.2 L803.4 886.3 L807.4 886.3 L811.4 886.7 L815.4 887.3 L819.4 887.5 L823.4 887 L827.4 887.5 L831.4 887.3 L835.4 887.7 L839.4 887.8 L843.4 887.9 L847.4 887.9 L851.4 887.9 L855.4 888 L859.4 888 L863.4 888 L867.4 888.1 L871.4 888.1 L875.4 888.1 L879.4 888.1 L883.4 888.2 L887.4 888.2 L891.4 888.2 L895.4 888.2 L899.4 888.2 L903.4 888.2 L907.4 888.2 L911.4 888.2 L915.4 888.2 L919.4 888.2 L923.4 888.2 L927.4 888.2 L931.4 888.2 L935.4 888.2 L939.4 888.2 L943.4 888.2 L947.4 888.2 L951.4 888.2 L955.4 888.2 L959.4 888.2 L963.4 888.2 L967.4 888.2 L971.4 888.2 L975.4 888.2 L979.4 888.2 L980.9 888.2" fill="none" stroke="#f00" stroke-width="2.9" stroke-linejoin="round" stroke-dasharray="10.9 2.2 5.8 2.1"/>
<path d="M115.5 933.7 L118.4 932.8 L121.3 931.9 L124.2 931.1 L127.1 930.2 L130 929.3 L132.9 928.5 L135.8 927.6 L138.7 926.8 L141.6 926 L144.5 925.1 L147.4 924.3 L150.3 923.5 L153.2 922.7 L156.1 921.9 L159 921 L161.9 920.3 L164.9 919.5 L167.8 918.7 L170.7 917.9 L173.6 917.1 L176.5 916.3 L179.5 915.6 L182.4 914.8 L185.3 914.1 L188.2 913.3 L191.2 912.6 L194.1 911.9 L197 911.2 L200 910.5 L202.9 909.8 L205.9 909 L208.8 908.3 L211.7 907.6 L214.7 906.9 L217.6 906.2 L220.5 905.5 L223.5 904.8 L226.4 904 L229.3 903.3 L232.3 902.5 L235.2 901.8 L238.1 901.1 L241.1 900.4 L244 899.7 L247 899 L249.9 898.4 L252.9 897.7 L255.8 897.1 L258.8 896.4 L261.7 895.8 L264.7 895.2 L267.7 894.6 L270.6 894 L273.6 893.4 L276.5 892.9 L279.5 892.3 L282.5 891.7 L285.5 891.2 L288.4 890.7 L291.4 890.2 L294.4 889.7 L297.4 889.2 L300.4 888.7 L303.3 888.1 L306.3 887.5 L309.2 886.9 L312.2 886.2 L315.1 885.3 L318 884.4 L320.9 883.5 L323.8 882.6 L326.7 881.7 L329.6 881 L332.5 880.4 L335.5 879.9 L338.5 879.5 L341.5 879.2 L344.5 878.8 L347.5 878.5 L350.5 878.1 L353.5 877.8 L356.5 877.4 L359.5 877 L362.5 876.5 L365.5 876 L368.5 875.6 L371.5 875.2 L374.6 874.9 L377.5 874.6 L380.5 874.5 L383.5 874.5 L386.5 874.8 L389.5 875.3 L392.5 875.9 L395.5 876.6 L398.4 877.3 L401.4 878.1 L404.4 879 L407.3 880 L410.1 881.3 L412.4 882.7 L414.6 884.7 L416.6 887.1 L418.4 889.8 L419.8 892.4 L421 895.1 L422.1 897.9 L423.1 900.9 L423.9 903.8 L424.5 906.8 L425.1 909.7 L425.6 912.7 L426.1 915.6 L426.5 918.6 L426.9 921.6 L427.2 924.6 L427.5 927.7 L427.6 930.7 L427.7 933.8" fill="none" stroke="#f00" stroke-width="2.9" stroke-linejoin="round" stroke-dasharray="3 2.25"/>
<path d="M115.4 759.6 L119.4 759.6 L123.4 759.6 L127.4 759.6 L131.4 759.6 L135.4 759.6 L139.4 759.6 L143.4 759.6 L147.4 759.6 L151.4 759.6 L155.4 759.6 L159.4 759.6 L163.4 759.6 L167.4 759.6 L171.4 759.6 L175.4 759.6 L179.4 759.6 L183.4 759.6 L187.4 759.6 L191.4 759.6 L195.4 759.6 L199.4 759.6 L203.4 759.6 L207.4 759.6 L211.4 759.6 L215.4 759.6 L219.4 759.6 L223.4 759.6 L227.4 759.6 L231.4 759.6 L235.4 759.6 L239.4 759.6 L243.4 759.6 L247.4 759.6 L251.4 759.6 L255.4 759.6 L259.4 759.6 L263.4 759.6 L267.4 759.6 L271.4 759.6 L275.4 759.6 L279.4 759.6 L283.4 759.6 L287.4 759.6 L291.4 759.6 L295.4 759.6 L299.4 759.6 L303.4 759.6 L307.4 759.6 L311.4 759.6 L315.4 759.6 L319.4 759.6 L323.4 759.6 L327.4 759.6 L331.4 759.6 L335.4 759.6 L339.4 759.6 L343.4 759.6 L347.4 759.6 L351.4 759.6 L355.4 759.6 L359.4 759.6 L363.4 759.6 L367.4 759.5 L371.4 759.5 L375.4 759.5 L379.4 759.5 L383.4 759.5 L387.4 759.5 L391.4 759.5 L395.4 759.5 L399.4 759.5 L403.4 759.5 L407.4 759.5 L411.4 759.5 L415.4 759.5 L419.4 759.5 L423.4 759.5 L427.4 759.5 L431.4 759.5 L435.4 759.5 L439.4 759.5 L443.4 759.5 L447.4 759.5 L451.4 759.5 L455.4 759.5 L459.4 759.5 L463.4 759.5 L467.4 759.5 L471.4 759.4 L475.4 759.4 L479.4 759.4 L483.4 759.4 L487.4 759.4 L491.4 759.3 L495.4 759.3 L499.4 759.2 L503.4 759.2 L507.4 759.2 L511.4 759.1 L515.4 759.1 L519.4 759 L523.4 759 L527.4 758.9 L531.4 758.8 L535.4 758.8 L539.4 758.7 L543.4 758.6 L547.4 758.4 L551.4 758.2 L555.4 758 L559.4 757.7 L563.4 757.4 L567.4 757.1 L571.4 756.8 L575.4 756.6 L579.4 756.3 L583.4 756 L587.4 755.7 L591.4 755.5 L595.4 755.2 L599.4 754.8 L603.4 754.5 L604 754.2 L608.5 753.9 L611.8 753.6 L615 753.7 L618.7 752.9 L621.8 753.1 L624.9 752 L628.5 752.5 L633.2 751.3 L636.8 750.9 L640.3 751.2 L644.2 750.1 L647.7 750.2 L650.9 749.1 L655.7 748.3 L659.7 747.9 L662.8 748.6 L666.4 747.1 L670.6 747.4 L673.9 745.2 L677.6 746.6 L682.4 743.9 L686.2 744.9 L690.9 743.7 L694.6 741.1 L698.8 742.6 L701.9 739.5 L705.3 742.2 L709.2 739.1 L713 740.3 L717.3 737.5 L720 737.8 L728.7 731.2 L737.5 736.7 L745.2 731.2 L750.6 738.3 L755 722.5 L759.4 736.7 L765.9 729 L774.7 723.6 L779 730 L783.5 719 L788 729.5 L793 716 L797.5 727 L802 713.5 L806.5 728 L811 716 L815.5 726 L820 712 L824.5 731 L828.5 712 L833 726 L837.5 707 L842 728 L846.5 711 L851 724 L855.5 705 L860 727 L864 745 L866 714 L868 700.5 L876.1 683.1" fill="none" stroke="#0f0" stroke-width="2.9" stroke-linejoin="round" stroke-dasharray="10.9 2.2 5.8 2.1"/>
<path d="M897.8 727.5 L902.7 731.3 L905.5 714 L903 700" fill="none" stroke="#0f0" stroke-width="2.9" stroke-linejoin="round" stroke-dasharray="10.9 2.2 5.8 2.1"/>
<path d="M915.8 707 L924.2 691 L928 706 L933 737" fill="none" stroke="#0f0" stroke-width="2.9" stroke-linejoin="round" stroke-dasharray="10.9 2.2 5.8 2.1"/>
<path d="M958.5 678 L962 697" fill="none" stroke="#0f0" stroke-width="2.9" stroke-linejoin="round" stroke-dasharray="10.9 2.2 5.8 2.1"/>
<path d="M115.4 873.6 L119.4 872.5 L123.4 871.4 L127.4 870.3 L131.4 869.2 L135.4 868.1 L139.4 867 L143.4 865.9 L147.4 864.8 L151.4 863.7 L155.4 862.6 L159.4 861.5 L163.4 860.4 L167.4 859.3 L171.4 858.2 L175.4 857.1 L179.4 856 L183.4 854.9 L187.4 853.8 L191.4 852.7 L195.4 851.6 L199.4 850.5 L203.4 849.5 L207.4 848.4 L211.4 847.4 L215.4 846.4 L219.4 845.3 L223.4 844.3 L227.4 843.3 L231.4 842.3 L235.4 841.2 L239.4 840.2 L243.4 839.2 L247.4 838.1 L251.4 837.1 L255.4 836.1 L259.4 835 L263.4 834 L267.4 833 L271.4 832 L275.4 830.9 L279.4 829.9 L283.4 828.9 L287.4 827.8 L291.4 826.8 L295.4 825.8 L299.4 824.8 L303.4 823.7 L307.4 822.7 L311.4 821.7 L315.4 820.6 L319.4 819.6 L323.4 818.6 L327.4 817.6 L331.4 816.5 L335.4 815.5 L339.4 814.5 L343.4 813.4 L347.4 812.4 L351.4 811.4 L355.4 810.3 L359.4 809.3 L363.4 808.3 L367.4 807.3 L371.4 806.2 L375.4 805.2 L379.4 804.2 L383.4 803.1 L387.4 802.1 L391.4 801.1 L395.4 800.1 L399.4 799 L403.4 798 L407.4 797 L411.4 795.9 L415.4 794.9 L419.4 793.9 L423.4 792.9 L427.4 791.8 L431.4 790.8 L435.4 789.8 L439.4 788.7 L443.4 787.7 L447.4 786.7 L451.4 785.6 L455.4 784.6 L459.4 783.6 L463.4 782.6 L467.4 781.5 L471.4 780.5 L475.4 779.5 L479.4 778.4 L483.4 777.4 L487.4 776.4 L491.4 775.4 L495.4 774.3 L499.4 773.3 L503.4 772.3 L507.4 771.2 L511.4 770.2 L515.4 769.2 L519.4 768.1 L523.4 767.1 L527.4 766.1 L531.4 765.1 L535.4 764 L539.4 763 L543.4 762 L547.4 760.9 L551.4 759.9 L555.4 758.9 L559.4 757.9 L563.4 756.8 L567.4 755.8 L571.4 754.8 L575.4 753.7 L579.4 752.7 L583.4 751.6 L587.4 750.6 L591.4 749.6 L595.4 748.5 L599.4 747.5 L603.4 746.5 L607.4 745.6 L611.4 744.7 L615.4 743.7 L619.4 742.8 L623.4 741.9 L624 741.9 L627.4 740.9 L631.8 740.2 L635.3 739.2 L639.6 738.5 L644.4 737.3 L648.5 736.6 L651.6 735.8 L655.3 734.9 L659 734.4 L663.8 733.2 L667.5 732.6 L672.2 731.5 L676.8 730.7 L680.7 729.8 L685.6 728.8 L689.5 728.2 L693.9 727.1 L698.8 726.2 L703.7 725.7 L707.7 724.2 L712 723.4 L716.3 723.5 L720 721.4 L725.5 718.1 L733.1 723 L740.8 717 L744.6 712.6 L752.8 714.8 L761.6 715.4 L768.1 717 L775.8 707.2 L781.2 709.4 L786.7 710.5 L790 708.3 L793.5 700.1 L797 713.7 L802 704 L807 717 L812 699 L817 714 L821 703 L825 712 L828.5 746.4 L832 705 L836 690 L840 715 L846 741 L850 706 L854 720 L858.7 786.2 L862.5 740 L864.5 712" fill="none" stroke="#0f0" stroke-width="2.9" stroke-linejoin="round" stroke-dasharray="3 2.25"/>
<path d="M941 707 L946 713 L950.4 649.8 L954 699 L958.5 678 L963 711" fill="none" stroke="#0f0" stroke-width="2.9" stroke-linejoin="round" stroke-dasharray="3 2.25"/>
<path d="M972.5 682.5 L976.5 698" fill="none" stroke="#0f0" stroke-width="2.9" stroke-linejoin="round" stroke-dasharray="3 2.25"/>
<path d="M115.4 759.6 L119.4 759.6 L123.4 759.6 L127.4 759.6 L131.4 759.6 L135.4 759.6 L139.4 759.6 L143.4 759.6 L147.4 759.6 L151.4 759.6 L155.4 759.6 L159.4 759.6 L163.4 759.6 L167.4 759.6 L171.4 759.6 L175.4 759.6 L179.4 759.6 L183.4 759.6 L187.4 759.6 L191.4 759.6 L195.4 759.6 L199.4 759.6 L203.4 759.6 L207.4 759.6 L211.4 759.6 L215.4 759.6 L219.4 759.6 L223.4 759.6 L227.4 759.6 L231.4 759.6 L235.4 759.6 L239.4 759.6 L243.4 759.6 L247.4 759.6 L251.4 759.6 L255.4 759.6 L259.4 759.6 L263.4 759.6 L267.4 759.6 L271.4 759.6 L275.4 759.6 L279.4 759.6 L283.4 759.6 L287.4 759.6 L291.4 759.6 L295.4 759.6 L299.4 759.6 L303.4 759.6 L307.4 759.6 L311.4 759.6 L315.4 759.6 L319.4 759.6 L323.4 759.6 L327.4 759.6 L331.4 759.6 L335.4 759.6 L339.4 759.6 L343.4 759.6 L347.4 759.6 L351.4 759.6 L355.4 759.6 L359.4 759.6 L363.4 759.6 L367.4 759.5 L371.4 759.5 L375.4 759.5 L379.4 759.5 L383.4 759.5 L387.4 759.5 L391.4 759.5 L395.4 759.5 L399.4 759.5 L403.4 759.5 L407.4 759.5 L411.4 759.5 L415.4 759.5 L419.4 759.5 L423.4 759.5 L427.4 759.5 L431.4 759.5 L435.4 759.5 L439.4 759.5 L443.4 759.5 L447.4 759.5 L451.4 759.5 L455.4 759.5 L459.4 759.5 L463.4 759.5 L467.4 759.5 L471.4 759.4 L475.4 759.4 L479.4 759.4 L483.4 759.4 L487.4 759.4 L491.4 759.3 L495.4 759.3 L499.4 759.2 L503.4 759.2 L507.4 759.2 L511.4 759.1 L515.4 759.1 L519.4 759 L523.4 759 L527.4 758.9 L531.4 758.8 L535.4 758.8 L539.4 758.7 L543.4 758.6 L547.4 758.4 L551.4 758.2 L555.4 758 L559.4 757.7 L563.4 757.4 L567.4 757.1 L571.4 756.8 L575.4 756.6 L579.4 756.3 L583.4 756 L587.4 755.7 L591.4 755.5 L595.4 755.2 L599.4 754.8 L603.4 754.5 L604 754.4 L608.4 754.2 L612.6 753.4 L617.4 753.5 L621 752.7 L624.9 752.9 L628.6 751.8 L632.8 752 L636.6 750.9 L640.3 751.1 L644.8 750 L648.4 750.6 L652 748.7 L656.6 749.3 L661 747.6 L664.5 748.5 L669.3 746.4 L673.3 745.5 L677.7 746.2 L681 743.7 L685.4 742.8 L690 742.7 L693.5 743.6 L697.4 740.8 L701.6 742.5 L705.3 739.4 L709.7 741.3 L712.9 737.8 L717.6 739.4 L723.3 740 L728.7 731.2 L734.2 731.2 L745.2 729.6 L749.5 733.4 L755 726.9 L761.6 731.2 L771.4 721.4 L775.8 711.6 L781.2 719.2 L785.6 731.2 L794.4 723.6 L798.7 718.1 L802 726.9 L806.9 702.8 L810.8 718.1 L814.3 724.8 L817 735.6 L820 769.3 L822.4 727.5 L824.4 685 L827.1 707.2 L830.5 719.4 L833.2 727.5 L835.9 707.2 L841.3 680.2 L844 697.8 L848 714 L852.1 727.5 L855.5 741 L858.8 732.9 L865.6 702 L868 688.9 L870.8 712 L873.7 715.4 L877.6 709.2 L880.5 704.3 L882.4 722.7 L885.3 768 L887.7 727.5 L888.7 708.2 L890.1 693.7 L893 686" fill="none" stroke="#00f" stroke-width="2.9" stroke-linejoin="round" stroke-dasharray="10.9 2.2 5.8 2.1"/>
<path d="M905 690 L909.5 697 L908.5 712 L906.2 726" fill="none" stroke="#00f" stroke-width="2.9" stroke-linejoin="round" stroke-dasharray="10.9 2.2 5.8 2.1"/>
<path d="M954.5 714 L962.5 706" fill="none" stroke="#00f" stroke-width="2.9" stroke-linejoin="round" stroke-dasharray="10.9 2.2 5.8 2.1"/>
<path d="M115.4 872.1 L119.4 871.1 L123.4 870 L127.4 869 L131.4 868 L135.4 867 L139.4 865.9 L143.4 864.9 L147.4 863.9 L151.4 862.8 L155.4 861.8 L159.4 860.8 L163.4 859.7 L167.4 858.7 L171.4 857.7 L175.4 856.7 L179.4 855.6 L183.4 854.6 L187.4 853.6 L191.4 852.5 L195.4 851.5 L199.4 850.5 L203.4 849.5 L207.4 848.4 L211.4 847.4 L215.4 846.4 L219.4 845.3 L223.4 844.3 L227.4 843.3 L231.4 842.3 L235.4 841.2 L239.4 840.2 L243.4 839.2 L247.4 838.1 L251.4 837.1 L255.4 836.1 L259.4 835 L263.4 834 L267.4 833 L271.4 832 L275.4 830.9 L279.4 829.9 L283.4 828.9 L287.4 827.8 L291.4 826.8 L295.4 825.8 L299.4 824.8 L303.4 823.7 L307.4 822.7 L311.4 821.7 L315.4 820.6 L319.4 819.6 L323.4 818.6 L327.4 817.6 L331.4 816.5 L335.4 815.5 L339.4 814.5 L343.4 813.4 L347.4 812.4 L351.4 811.4 L355.4 810.3 L359.4 809.3 L363.4 808.3 L367.4 807.3 L371.4 806.2 L375.4 805.2 L379.4 804.2 L383.4 803.1 L387.4 802.1 L391.4 801.1 L395.4 800.1 L399.4 799 L403.4 798 L407.4 797 L411.4 795.9 L415.4 794.9 L419.4 793.9 L423.4 792.9 L427.4 791.8 L431.4 790.8 L435.4 789.8 L439.4 788.7 L443.4 787.7 L447.4 786.7 L451.4 785.6 L455.4 784.6 L459.4 783.6 L463.4 782.6 L467.4 781.5 L471.4 780.5 L475.4 779.5 L479.4 778.4 L483.4 777.4 L487.4 776.4 L491.4 775.4 L495.4 774.3 L499.4 773.3 L503.4 772.3 L507.4 771.2 L511.4 770.2 L515.4 769.2 L519.4 768.1 L523.4 767.1 L527.4 766.1 L531.4 765.1 L535.4 764 L539.4 763 L543.4 762 L547.4 760.9 L551.4 759.9 L555.4 758.9 L559.4 757.9 L563.4 756.8 L567.4 755.8 L571.4 754.8 L575.4 753.7 L579.4 752.7 L583.4 751.6 L587.4 750.6 L591.4 749.6 L595.4 748.5 L599.4 747.5 L603.4 746.5 L607.4 745.6 L611.4 744.7 L615.4 743.7 L619.4 742.8 L623.4 741.9 L624 741.7 L627.3 741.2 L632 739.9 L635 739.5 L639.6 738.3 L644.4 737.5 L648 736.5 L652.7 735.5 L657.6 734.7 L660.8 734 L664.3 733.1 L668.3 732.5 L673.1 731.5 L676.3 730.6 L680.1 729.9 L684.4 729.3 L687.8 728.3 L692.3 727.7 L696.1 726.8 L700.4 726.3 L704.5 725 L709.1 724.9 L712.7 723.2 L716.3 723.8 L720 720.8 L730.9 720.8 L739.7 720.8 L744.1 720.3 L752.8 714.8 L759.4 720.3 L764.8 721.4 L771.4 714.8 L775.8 711.6 L782 718 L788 709 L794 716 L800 706 L806 714 L812 702 L818 712 L824 698 L830 708 L834 694 L838 700 L841.7 679.7 L845 700 L849 712 L853 690 L857.7 680.5 L862 692 L866 706 L870 700 L875 712 L880 698 L884 708 L889 700 L893.5 688 L898 676.7 L900.5 690 L903 711" fill="none" stroke="#00f" stroke-width="2.9" stroke-linejoin="round" stroke-dasharray="3 2.25"/>
<path d="M966 703.5 L973 696.5" fill="none" stroke="#00f" stroke-width="2.9" stroke-linejoin="round" stroke-dasharray="3 2.25"/>
</g>
<g id="axes-top">
<rect x="110.6" y="1" width="893.3" height="386.9" fill="none" stroke="#262626" stroke-width="1.7"/>
<line x1="109.75" y1="0.95" x2="1004.75" y2="0.95" stroke="#262626" stroke-width="1.9"/>
<line x1="110.5" y1="387.9" x2="110.5" y2="392.9" stroke="#262626" stroke-width="1.7"/>
<line x1="127.56" y1="387.9" x2="127.56" y2="392.9" stroke="#262626" stroke-width="1.7"/>
<line x1="141.99" y1="387.9" x2="141.99" y2="392.9" stroke="#262626" stroke-width="1.7"/>
<line x1="154.48" y1="387.9" x2="154.48" y2="392.9" stroke="#262626" stroke-width="1.7"/>
<line x1="165.51" y1="387.9" x2="165.51" y2="392.9" stroke="#262626" stroke-width="1.7"/>
<line x1="175.37" y1="387.9" x2="175.37" y2="397.9" stroke="#262626" stroke-width="1.7"/>
<line x1="240.23" y1="387.9" x2="240.23" y2="392.9" stroke="#262626" stroke-width="1.7"/>
<line x1="278.18" y1="387.9" x2="278.18" y2="392.9" stroke="#262626" stroke-width="1.7"/>
<line x1="305.1" y1="387.9" x2="305.1" y2="392.9" stroke="#262626" stroke-width="1.7"/>
<line x1="325.98" y1="387.9" x2="325.98" y2="392.9" stroke="#262626" stroke-width="1.7"/>
<line x1="343.04" y1="387.9" x2="343.04" y2="392.9" stroke="#262626" stroke-width="1.7"/>
<line x1="357.47" y1="387.9" x2="357.47" y2="392.9" stroke="#262626" stroke-width="1.7"/>
<line x1="369.96" y1="387.9" x2="369.96" y2="392.9" stroke="#262626" stroke-width="1.7"/>
<line x1="380.99" y1="387.9" x2="380.99" y2="392.9" stroke="#262626" stroke-width="1.7"/>
<line x1="390.85" y1="387.9" x2="390.85" y2="397.9" stroke="#262626" stroke-width="1.7"/>
<line x1="455.71" y1="387.9" x2="455.71" y2="392.9" stroke="#262626" stroke-width="1.7"/>
<line x1="493.66" y1="387.9" x2="493.66" y2="392.9" stroke="#262626" stroke-width="1.7"/>
<line x1="520.58" y1="387.9" x2="520.58" y2="392.9" stroke="#262626" stroke-width="1.7"/>
<line x1="541.46" y1="387.9" x2="541.46" y2="392.9" stroke="#262626" stroke-width="1.7"/>
<line x1="558.52" y1="387.9" x2="558.52" y2="392.9" stroke="#262626" stroke-width="1.7"/>
<line x1="572.95" y1="387.9" x2="572.95" y2="392.9" stroke="#262626" stroke-width="1.7"/>
<line x1="585.44" y1="387.9" x2="585.44" y2="392.9" stroke="#262626" stroke-width="1.7"/>
<line x1="596.47" y1="387.9" x2="596.47" y2="392.9" stroke="#262626" stroke-width="1.7"/>
<line x1="606.33" y1="387.9" x2="606.33" y2="397.9" stroke="#262626" stroke-width="1.7"/>
<line x1="671.19" y1="387.9" x2="671.19" y2="392.9" stroke="#262626" stroke-width="1.7"/>
<line x1="709.14" y1="387.9" x2="709.14" y2="392.9" stroke="#262626" stroke-width="1.7"/>
<line x1="736.06" y1="387.9" x2="736.06" y2="392.9" stroke="#262626" stroke-width="1.7"/>
<line x1="756.94" y1="387.9" x2="756.94" y2="392.9" stroke="#262626" stroke-width="1.7"/>
<line x1="774" y1="387.9" x2="774" y2="392.9" stroke="#262626" stroke-width="1.7"/>
<line x1="788.43" y1="387.9" x2="788.43" y2="392.9" stroke="#262626" stroke-width="1.7"/>
<line x1="800.92" y1="387.9" x2="800.92" y2="392.9" stroke="#262626" stroke-width="1.7"/>
<line x1="811.95" y1="387.9" x2="811.95" y2="392.9" stroke="#262626" stroke-width="1.7"/>
<line x1="821.81" y1="387.9" x2="821.81" y2="397.9" stroke="#262626" stroke-width="1.7"/>
<line x1="886.67" y1="387.9" x2="886.67" y2="392.9" stroke="#262626" stroke-width="1.7"/>
<line x1="924.62" y1="387.9" x2="924.62" y2="392.9" stroke="#262626" stroke-width="1.7"/>
<line x1="951.54" y1="387.9" x2="951.54" y2="392.9" stroke="#262626" stroke-width="1.7"/>
<line x1="972.42" y1="387.9" x2="972.42" y2="392.9" stroke="#262626" stroke-width="1.7"/>
<line x1="989.48" y1="387.9" x2="989.48" y2="392.9" stroke="#262626" stroke-width="1.7"/>
<line x1="1003.91" y1="387.9" x2="1003.91" y2="392.9" stroke="#262626" stroke-width="1.7"/>
<line x1="105.6" y1="387.8" x2="110.6" y2="387.8" stroke="#262626" stroke-width="1.7"/>
<line x1="105.6" y1="378.99" x2="110.6" y2="378.99" stroke="#262626" stroke-width="1.7"/>
<line x1="105.6" y1="371.54" x2="110.6" y2="371.54" stroke="#262626" stroke-width="1.7"/>
<line x1="105.6" y1="365.09" x2="110.6" y2="365.09" stroke="#262626" stroke-width="1.7"/>
<line x1="105.6" y1="359.39" x2="110.6" y2="359.39" stroke="#262626" stroke-width="1.7"/>
<line x1="100.6" y1="354.3" x2="110.6" y2="354.3" stroke="#262626" stroke-width="1.7"/>
<line x1="105.6" y1="320.8" x2="110.6" y2="320.8" stroke="#262626" stroke-width="1.7"/>
<line x1="105.6" y1="301.2" x2="110.6" y2="301.2" stroke="#262626" stroke-width="1.7"/>
<line x1="105.6" y1="287.29" x2="110.6" y2="287.29" stroke="#262626" stroke-width="1.7"/>
<line x1="105.6" y1="276.5" x2="110.6" y2="276.5" stroke="#262626" stroke-width="1.7"/>
<line x1="105.6" y1="267.69" x2="110.6" y2="267.69" stroke="#262626" stroke-width="1.7"/>
<line x1="105.6" y1="260.24" x2="110.6" y2="260.24" stroke="#262626" stroke-width="1.7"/>
<line x1="105.6" y1="253.79" x2="110.6" y2="253.79" stroke="#262626" stroke-width="1.7"/>
<line x1="105.6" y1="248.09" x2="110.6" y2="248.09" stroke="#262626" stroke-width="1.7"/>
<line x1="100.6" y1="243" x2="110.6" y2="243" stroke="#262626" stroke-width="1.7"/>
<line x1="105.6" y1="209.5" x2="110.6" y2="209.5" stroke="#262626" stroke-width="1.7"/>
<line x1="105.6" y1="189.9" x2="110.6" y2="189.9" stroke="#262626" stroke-width="1.7"/>
<line x1="105.6" y1="175.99" x2="110.6" y2="175.99" stroke="#262626" stroke-width="1.7"/>
<line x1="105.6" y1="165.2" x2="110.6" y2="165.2" stroke="#262626" stroke-width="1.7"/>
<line x1="105.6" y1="156.39" x2="110.6" y2="156.39" stroke="#262626" stroke-width="1.7"/>
<line x1="105.6" y1="148.94" x2="110.6" y2="148.94" stroke="#262626" stroke-width="1.7"/>
<line x1="105.6" y1="142.49" x2="110.6" y2="142.49" stroke="#262626" stroke-width="1.7"/>
<line x1="105.6" y1="136.79" x2="110.6" y2="136.79" stroke="#262626" stroke-width="1.7"/>
<line x1="100.6" y1="131.7" x2="110.6" y2="131.7" stroke="#262626" stroke-width="1.7"/>
<line x1="105.6" y1="98.2" x2="110.6" y2="98.2" stroke="#262626" stroke-width="1.7"/>
<line x1="105.6" y1="78.6" x2="110.6" y2="78.6" stroke="#262626" stroke-width="1.7"/>
<line x1="105.6" y1="64.69" x2="110.6" y2="64.69" stroke="#262626" stroke-width="1.7"/>
<line x1="105.6" y1="53.9" x2="110.6" y2="53.9" stroke="#262626" stroke-width="1.7"/>
<line x1="105.6" y1="45.09" x2="110.6" y2="45.09" stroke="#262626" stroke-width="1.7"/>
<line x1="105.6" y1="37.64" x2="110.6" y2="37.64" stroke="#262626" stroke-width="1.7"/>
<line x1="105.6" y1="31.19" x2="110.6" y2="31.19" stroke="#262626" stroke-width="1.7"/>
<line x1="105.6" y1="25.49" x2="110.6" y2="25.49" stroke="#262626" stroke-width="1.7"/>
<line x1="100.6" y1="20.4" x2="110.6" y2="20.4" stroke="#262626" stroke-width="1.7"/>
<text x="147.63" y="443.7" font-size="29.8" text-anchor="start" font-family='"Liberation Sans", Arial, Helvetica, sans-serif'>10</text>
<text x="180.57" y="429" font-size="23.1" text-anchor="start" font-family='"Liberation Sans", Arial, Helvetica, sans-serif'>-1</text>
<text x="367.56" y="443.7" font-size="29.8" text-anchor="start" font-family='"Liberation Sans", Arial, Helvetica, sans-serif'>10</text>
<text x="401.69" y="429" font-size="23.1" text-anchor="start" font-family='"Liberation Sans", Arial, Helvetica, sans-serif'>0</text>
<text x="583.04" y="443.7" font-size="29.8" text-anchor="start" font-family='"Liberation Sans", Arial, Helvetica, sans-serif'>10</text>
<text x="617.17" y="429" font-size="23.1" text-anchor="start" font-family='"Liberation Sans", Arial, Helvetica, sans-serif'>1</text>
<text x="798.52" y="443.7" font-size="29.8" text-anchor="start" font-family='"Liberation Sans", Arial, Helvetica, sans-serif'>10</text>
<text x="832.65" y="429" font-size="23.1" text-anchor="start" font-family='"Liberation Sans", Arial, Helvetica, sans-serif'>2</text>
<text x="47.02" y="36.7" font-size="29.8" text-anchor="start" font-family='"Liberation Sans", Arial, Helvetica, sans-serif'>10</text>
<text x="79.86" y="22" font-size="23.1" text-anchor="start" font-family='"Liberation Sans", Arial, Helvetica, sans-serif'>0</text>
<text x="39.33" y="148" font-size="29.8" text-anchor="start" font-family='"Liberation Sans", Arial, Helvetica, sans-serif'>10</text>
<text x="72.26" y="133.3" font-size="23.1" text-anchor="start" font-family='"Liberation Sans", Arial, Helvetica, sans-serif'>-1</text>
<text x="39.33" y="259.3" font-size="29.8" text-anchor="start" font-family='"Liberation Sans", Arial, Helvetica, sans-serif'>10</text>
<text x="72.26" y="244.6" font-size="23.1" text-anchor="start" font-family='"Liberation Sans", Arial, Helvetica, sans-serif'>-2</text>
<text x="39.33" y="370.6" font-size="29.8" text-anchor="start" font-family='"Liberation Sans", Arial, Helvetica, sans-serif'>10</text>
<text x="72.26" y="355.9" font-size="23.1" text-anchor="start" font-family='"Liberation Sans", Arial, Helvetica, sans-serif'>-3</text>
</g>
<g id="axes-bottom">
<rect x="111" y="553.1" width="874.5" height="387.25" fill="none" stroke="#262626" stroke-width="1.7"/>
<line x1="115.45" y1="940.35" x2="115.45" y2="950.35" stroke="#262626" stroke-width="1.7"/>
<line x1="180.57" y1="940.35" x2="180.57" y2="945.35" stroke="#262626" stroke-width="1.7"/>
<line x1="218.67" y1="940.35" x2="218.67" y2="945.35" stroke="#262626" stroke-width="1.7"/>
<line x1="245.7" y1="940.35" x2="245.7" y2="945.35" stroke="#262626" stroke-width="1.7"/>
<line x1="266.67" y1="940.35" x2="266.67" y2="945.35" stroke="#262626" stroke-width="1.7"/>
<line x1="283.8" y1="940.35" x2="283.8" y2="945.35" stroke="#262626" stroke-width="1.7"/>
<line x1="298.28" y1="940.35" x2="298.28" y2="945.35" stroke="#262626" stroke-width="1.7"/>
<line x1="310.82" y1="940.35" x2="310.82" y2="945.35" stroke="#262626" stroke-width="1.7"/>
<line x1="321.89" y1="940.35" x2="321.89" y2="945.35" stroke="#262626" stroke-width="1.7"/>
<line x1="331.79" y1="940.35" x2="331.79" y2="945.35" stroke="#262626" stroke-width="1.7"/>
<line x1="396.91" y1="940.35" x2="396.91" y2="945.35" stroke="#262626" stroke-width="1.7"/>
<line x1="435.01" y1="940.35" x2="435.01" y2="945.35" stroke="#262626" stroke-width="1.7"/>
<line x1="462.04" y1="940.35" x2="462.04" y2="945.35" stroke="#262626" stroke-width="1.7"/>
<line x1="483.01" y1="940.35" x2="483.01" y2="945.35" stroke="#262626" stroke-width="1.7"/>
<line x1="500.14" y1="940.35" x2="500.14" y2="945.35" stroke="#262626" stroke-width="1.7"/>
<line x1="514.62" y1="940.35" x2="514.62" y2="945.35" stroke="#262626" stroke-width="1.7"/>
<line x1="527.16" y1="940.35" x2="527.16" y2="945.35" stroke="#262626" stroke-width="1.7"/>
<line x1="538.23" y1="940.35" x2="538.23" y2="945.35" stroke="#262626" stroke-width="1.7"/>
<line x1="548.13" y1="940.35" x2="548.13" y2="950.35" stroke="#262626" stroke-width="1.7"/>
<line x1="613.25" y1="940.35" x2="613.25" y2="945.35" stroke="#262626" stroke-width="1.7"/>
<line x1="651.35" y1="940.35" x2="651.35" y2="945.35" stroke="#262626" stroke-width="1.7"/>
<line x1="678.38" y1="940.35" x2="678.38" y2="945.35" stroke="#262626" stroke-width="1.7"/>
<line x1="699.35" y1="940.35" x2="699.35" y2="945.35" stroke="#262626" stroke-width="1.7"/>
<line x1="716.48" y1="940.35" x2="716.48" y2="945.35" stroke="#262626" stroke-width="1.7"/>
<line x1="730.96" y1="940.35" x2="730.96" y2="945.35" stroke="#262626" stroke-width="1.7"/>
<line x1="743.5" y1="940.35" x2="743.5" y2="945.35" stroke="#262626" stroke-width="1.7"/>
<line x1="754.57" y1="940.35" x2="754.57" y2="945.35" stroke="#262626" stroke-width="1.7"/>
<line x1="764.47" y1="940.35" x2="764.47" y2="945.35" stroke="#262626" stroke-width="1.7"/>
<line x1="829.59" y1="940.35" x2="829.59" y2="945.35" stroke="#262626" stroke-width="1.7"/>
<line x1="867.69" y1="940.35" x2="867.69" y2="945.35" stroke="#262626" stroke-width="1.7"/>
<line x1="894.72" y1="940.35" x2="894.72" y2="945.35" stroke="#262626" stroke-width="1.7"/>
<line x1="915.69" y1="940.35" x2="915.69" y2="945.35" stroke="#262626" stroke-width="1.7"/>
<line x1="932.82" y1="940.35" x2="932.82" y2="945.35" stroke="#262626" stroke-width="1.7"/>
<line x1="947.3" y1="940.35" x2="947.3" y2="945.35" stroke="#262626" stroke-width="1.7"/>
<line x1="959.84" y1="940.35" x2="959.84" y2="945.35" stroke="#262626" stroke-width="1.7"/>
<line x1="970.91" y1="940.35" x2="970.91" y2="945.35" stroke="#262626" stroke-width="1.7"/>
<line x1="980.81" y1="940.35" x2="980.81" y2="950.35" stroke="#262626" stroke-width="1.7"/>
<line x1="106" y1="940.51" x2="111" y2="940.51" stroke="#262626" stroke-width="1.7"/>
<line x1="985.5" y1="940.51" x2="990.5" y2="940.51" stroke="#262626" stroke-width="1.7"/>
<line x1="106" y1="936.13" x2="111" y2="936.13" stroke="#262626" stroke-width="1.7"/>
<line x1="985.5" y1="936.13" x2="990.5" y2="936.13" stroke="#262626" stroke-width="1.7"/>
<line x1="106" y1="932.43" x2="111" y2="932.43" stroke="#262626" stroke-width="1.7"/>
<line x1="985.5" y1="932.43" x2="990.5" y2="932.43" stroke="#262626" stroke-width="1.7"/>
<line x1="106" y1="929.22" x2="111" y2="929.22" stroke="#262626" stroke-width="1.7"/>
<line x1="985.5" y1="929.22" x2="990.5" y2="929.22" stroke="#262626" stroke-width="1.7"/>
<line x1="106" y1="926.39" x2="111" y2="926.39" stroke="#262626" stroke-width="1.7"/>
<line x1="985.5" y1="926.39" x2="990.5" y2="926.39" stroke="#262626" stroke-width="1.7"/>
<line x1="106" y1="923.86" x2="111" y2="923.86" stroke="#262626" stroke-width="1.7"/>
<line x1="985.5" y1="923.86" x2="990.5" y2="923.86" stroke="#262626" stroke-width="1.7"/>
<line x1="106" y1="907.21" x2="111" y2="907.21" stroke="#262626" stroke-width="1.7"/>
<line x1="985.5" y1="907.21" x2="990.5" y2="907.21" stroke="#262626" stroke-width="1.7"/>
<line x1="106" y1="897.47" x2="111" y2="897.47" stroke="#262626" stroke-width="1.7"/>
<line x1="985.5" y1="897.47" x2="990.5" y2="897.47" stroke="#262626" stroke-width="1.7"/>
<line x1="106" y1="890.55" x2="111" y2="890.55" stroke="#262626" stroke-width="1.7"/>
<line x1="985.5" y1="890.55" x2="990.5" y2="890.55" stroke="#262626" stroke-width="1.7"/>
<line x1="106" y1="885.19" x2="111" y2="885.19" stroke="#262626" stroke-width="1.7"/>
<line x1="985.5" y1="885.19" x2="990.5" y2="885.19" stroke="#262626" stroke-width="1.7"/>
<line x1="106" y1="880.81" x2="111" y2="880.81" stroke="#262626" stroke-width="1.7"/>
<line x1="985.5" y1="880.81" x2="990.5" y2="880.81" stroke="#262626" stroke-width="1.7"/>
<line x1="106" y1="877.11" x2="111" y2="877.11" stroke="#262626" stroke-width="1.7"/>
<line x1="985.5" y1="877.11" x2="990.5" y2="877.11" stroke="#262626" stroke-width="1.7"/>
<line x1="106" y1="873.9" x2="111" y2="873.9" stroke="#262626" stroke-width="1.7"/>
<line x1="985.5" y1="873.9" x2="990.5" y2="873.9" stroke="#262626" stroke-width="1.7"/>
<line x1="106" y1="871.07" x2="111" y2="871.07" stroke="#262626" stroke-width="1.7"/>
<line x1="985.5" y1="871.07" x2="990.5" y2="871.07" stroke="#262626" stroke-width="1.7"/>
<line x1="101" y1="868.54" x2="111" y2="868.54" stroke="#262626" stroke-width="1.7"/>
<line x1="985.5" y1="868.54" x2="995.5" y2="868.54" stroke="#262626" stroke-width="1.7"/>
<line x1="106" y1="851.89" x2="111" y2="851.89" stroke="#262626" stroke-width="1.7"/>
<line x1="985.5" y1="851.89" x2="990.5" y2="851.89" stroke="#262626" stroke-width="1.7"/>
<line x1="106" y1="842.15" x2="111" y2="842.15" stroke="#262626" stroke-width="1.7"/>
<line x1="985.5" y1="842.15" x2="990.5" y2="842.15" stroke="#262626" stroke-width="1.7"/>
<line x1="106" y1="835.23" x2="111" y2="835.23" stroke="#262626" stroke-width="1.7"/>
<line x1="985.5" y1="835.23" x2="990.5" y2="835.23" stroke="#262626" stroke-width="1.7"/>
<line x1="106" y1="829.87" x2="111" y2="829.87" stroke="#262626" stroke-width="1.7"/>
<line x1="985.5" y1="829.87" x2="990.5" y2="829.87" stroke="#262626" stroke-width="1.7"/>
<line x1="106" y1="825.49" x2="111" y2="825.49" stroke="#262626" stroke-width="1.7"/>
<line x1="985.5" y1="825.49" x2="990.5" y2="825.49" stroke="#262626" stroke-width="1.7"/>
<line x1="106" y1="821.79" x2="111" y2="821.79" stroke="#262626" stroke-width="1.7"/>
<line x1="985.5" y1="821.79" x2="990.5" y2="821.79" stroke="#262626" stroke-width="1.7"/>
<line x1="106" y1="818.58" x2="111" y2="818.58" stroke="#262626" stroke-width="1.7"/>
<line x1="985.5" y1="818.58" x2="990.5" y2="818.58" stroke="#262626" stroke-width="1.7"/>
<line x1="106" y1="815.75" x2="111" y2="815.75" stroke="#262626" stroke-width="1.7"/>
<line x1="985.5" y1="815.75" x2="990.5" y2="815.75" stroke="#262626" stroke-width="1.7"/>
<line x1="106" y1="813.22" x2="111" y2="813.22" stroke="#262626" stroke-width="1.7"/>
<line x1="985.5" y1="813.22" x2="990.5" y2="813.22" stroke="#262626" stroke-width="1.7"/>
<line x1="106" y1="796.57" x2="111" y2="796.57" stroke="#262626" stroke-width="1.7"/>
<line x1="985.5" y1="796.57" x2="990.5" y2="796.57" stroke="#262626" stroke-width="1.7"/>
<line x1="106" y1="786.83" x2="111" y2="786.83" stroke="#262626" stroke-width="1.7"/>
<line x1="985.5" y1="786.83" x2="990.5" y2="786.83" stroke="#262626" stroke-width="1.7"/>
<line x1="106" y1="779.91" x2="111" y2="779.91" stroke="#262626" stroke-width="1.7"/>
<line x1="985.5" y1="779.91" x2="990.5" y2="779.91" stroke="#262626" stroke-width="1.7"/>
<line x1="106" y1="774.55" x2="111" y2="774.55" stroke="#262626" stroke-width="1.7"/>
<line x1="985.5" y1="774.55" x2="990.5" y2="774.55" stroke="#262626" stroke-width="1.7"/>
<line x1="106" y1="770.17" x2="111" y2="770.17" stroke="#262626" stroke-width="1.7"/>
<line x1="985.5" y1="770.17" x2="990.5" y2="770.17" stroke="#262626" stroke-width="1.7"/>
<line x1="106" y1="766.47" x2="111" y2="766.47" stroke="#262626" stroke-width="1.7"/>
<line x1="985.5" y1="766.47" x2="990.5" y2="766.47" stroke="#262626" stroke-width="1.7"/>
<line x1="106" y1="763.26" x2="111" y2="763.26" stroke="#262626" stroke-width="1.7"/>
<line x1="985.5" y1="763.26" x2="990.5" y2="763.26" stroke="#262626" stroke-width="1.7"/>
<line x1="106" y1="760.43" x2="111" y2="760.43" stroke="#262626" stroke-width="1.7"/>
<line x1="985.5" y1="760.43" x2="990.5" y2="760.43" stroke="#262626" stroke-width="1.7"/>
<line x1="101" y1="757.9" x2="111" y2="757.9" stroke="#262626" stroke-width="1.7"/>
<line x1="985.5" y1="757.9" x2="995.5" y2="757.9" stroke="#262626" stroke-width="1.7"/>
<line x1="106" y1="741.25" x2="111" y2="741.25" stroke="#262626" stroke-width="1.7"/>
<line x1="985.5" y1="741.25" x2="990.5" y2="741.25" stroke="#262626" stroke-width="1.7"/>
<line x1="106" y1="731.51" x2="111" y2="731.51" stroke="#262626" stroke-width="1.7"/>
<line x1="985.5" y1="731.51" x2="990.5" y2="731.51" stroke="#262626" stroke-width="1.7"/>
<line x1="106" y1="724.59" x2="111" y2="724.59" stroke="#262626" stroke-width="1.7"/>
<line x1="985.5" y1="724.59" x2="990.5" y2="724.59" stroke="#262626" stroke-width="1.7"/>
<line x1="106" y1="719.23" x2="111" y2="719.23" stroke="#262626" stroke-width="1.7"/>
<line x1="985.5" y1="719.23" x2="990.5" y2="719.23" stroke="#262626" stroke-width="1.7"/>
<line x1="106" y1="714.85" x2="111" y2="714.85" stroke="#262626" stroke-width="1.7"/>
<line x1="985.5" y1="714.85" x2="990.5" y2="714.85" stroke="#262626" stroke-width="1.7"/>
<line x1="106" y1="711.15" x2="111" y2="711.15" stroke="#262626" stroke-width="1.7"/>
<line x1="985.5" y1="711.15" x2="990.5" y2="711.15" stroke="#262626" stroke-width="1.7"/>
<line x1="106" y1="707.94" x2="111" y2="707.94" stroke="#262626" stroke-width="1.7"/>
<line x1="985.5" y1="707.94" x2="990.5" y2="707.94" stroke="#262626" stroke-width="1.7"/>
<line x1="106" y1="705.11" x2="111" y2="705.11" stroke="#262626" stroke-width="1.7"/>
<line x1="985.5" y1="705.11" x2="990.5" y2="705.11" stroke="#262626" stroke-width="1.7"/>
<line x1="106" y1="702.58" x2="111" y2="702.58" stroke="#262626" stroke-width="1.7"/>
<line x1="985.5" y1="702.58" x2="990.5" y2="702.58" stroke="#262626" stroke-width="1.7"/>
<line x1="106" y1="685.93" x2="111" y2="685.93" stroke="#262626" stroke-width="1.7"/>
<line x1="985.5" y1="685.93" x2="990.5" y2="685.93" stroke="#262626" stroke-width="1.7"/>
<line x1="106" y1="676.19" x2="111" y2="676.19" stroke="#262626" stroke-width="1.7"/>
<line x1="985.5" y1="676.19" x2="990.5" y2="676.19" stroke="#262626" stroke-width="1.7"/>
<line x1="106" y1="669.27" x2="111" y2="669.27" stroke="#262626" stroke-width="1.7"/>
<line x1="985.5" y1="669.27" x2="990.5" y2="669.27" stroke="#262626" stroke-width="1.7"/>
<line x1="106" y1="663.91" x2="111" y2="663.91" stroke="#262626" stroke-width="1.7"/>
<line x1="985.5" y1="663.91" x2="990.5" y2="663.91" stroke="#262626" stroke-width="1.7"/>
<line x1="106" y1="659.53" x2="111" y2="659.53" stroke="#262626" stroke-width="1.7"/>
<line x1="985.5" y1="659.53" x2="990.5" y2="659.53" stroke="#262626" stroke-width="1.7"/>
<line x1="106" y1="655.83" x2="111" y2="655.83" stroke="#262626" stroke-width="1.7"/>
<line x1="985.5" y1="655.83" x2="990.5" y2="655.83" stroke="#262626" stroke-width="1.7"/>
<line x1="106" y1="652.62" x2="111" y2="652.62" stroke="#262626" stroke-width="1.7"/>
<line x1="985.5" y1="652.62" x2="990.5" y2="652.62" stroke="#262626" stroke-width="1.7"/>
<line x1="106" y1="649.79" x2="111" y2="649.79" stroke="#262626" stroke-width="1.7"/>
<line x1="985.5" y1="649.79" x2="990.5" y2="649.79" stroke="#262626" stroke-width="1.7"/>
<line x1="101" y1="647.26" x2="111" y2="647.26" stroke="#262626" stroke-width="1.7"/>
<line x1="985.5" y1="647.26" x2="995.5" y2="647.26" stroke="#262626" stroke-width="1.7"/>
<line x1="106" y1="630.61" x2="111" y2="630.61" stroke="#262626" stroke-width="1.7"/>
<line x1="985.5" y1="630.61" x2="990.5" y2="630.61" stroke="#262626" stroke-width="1.7"/>
<line x1="106" y1="620.87" x2="111" y2="620.87" stroke="#262626" stroke-width="1.7"/>
<line x1="985.5" y1="620.87" x2="990.5" y2="620.87" stroke="#262626" stroke-width="1.7"/>
<line x1="106" y1="613.95" x2="111" y2="613.95" stroke="#262626" stroke-width="1.7"/>
<line x1="985.5" y1="613.95" x2="990.5" y2="613.95" stroke="#262626" stroke-width="1.7"/>
<line x1="106" y1="608.59" x2="111" y2="608.59" stroke="#262626" stroke-width="1.7"/>
<line x1="985.5" y1="608.59" x2="990.5" y2="608.59" stroke="#262626" stroke-width="1.7"/>
<line x1="106" y1="604.21" x2="111" y2="604.21" stroke="#262626" stroke-width="1.7"/>
<line x1="985.5" y1="604.21" x2="990.5" y2="604.21" stroke="#262626" stroke-width="1.7"/>
<line x1="106" y1="600.51" x2="111" y2="600.51" stroke="#262626" stroke-width="1.7"/>
<line x1="985.5" y1="600.51" x2="990.5" y2="600.51" stroke="#262626" stroke-width="1.7"/>
<line x1="106" y1="597.3" x2="111" y2="597.3" stroke="#262626" stroke-width="1.7"/>
<line x1="985.5" y1="597.3" x2="990.5" y2="597.3" stroke="#262626" stroke-width="1.7"/>
<line x1="106" y1="594.47" x2="111" y2="594.47" stroke="#262626" stroke-width="1.7"/>
<line x1="985.5" y1="594.47" x2="990.5" y2="594.47" stroke="#262626" stroke-width="1.7"/>
<line x1="106" y1="591.94" x2="111" y2="591.94" stroke="#262626" stroke-width="1.7"/>
<line x1="985.5" y1="591.94" x2="990.5" y2="591.94" stroke="#262626" stroke-width="1.7"/>
<line x1="106" y1="575.29" x2="111" y2="575.29" stroke="#262626" stroke-width="1.7"/>
<line x1="985.5" y1="575.29" x2="990.5" y2="575.29" stroke="#262626" stroke-width="1.7"/>
<line x1="106" y1="565.55" x2="111" y2="565.55" stroke="#262626" stroke-width="1.7"/>
<line x1="985.5" y1="565.55" x2="990.5" y2="565.55" stroke="#262626" stroke-width="1.7"/>
<line x1="106" y1="558.63" x2="111" y2="558.63" stroke="#262626" stroke-width="1.7"/>
<line x1="985.5" y1="558.63" x2="990.5" y2="558.63" stroke="#262626" stroke-width="1.7"/>
<line x1="106" y1="553.27" x2="111" y2="553.27" stroke="#262626" stroke-width="1.7"/>
<line x1="985.5" y1="553.27" x2="990.5" y2="553.27" stroke="#262626" stroke-width="1.7"/>
<text x="87.71" y="995.8" font-size="29.8" text-anchor="start" font-family='"Liberation Sans", Arial, Helvetica, sans-serif'>10</text>
<text x="120.65" y="981.1" font-size="23.1" text-anchor="start" font-family='"Liberation Sans", Arial, Helvetica, sans-serif'>-2</text>
<text x="524.84" y="995.8" font-size="29.8" text-anchor="start" font-family='"Liberation Sans", Arial, Helvetica, sans-serif'>10</text>
<text x="558.98" y="981.1" font-size="23.1" text-anchor="start" font-family='"Liberation Sans", Arial, Helvetica, sans-serif'>0</text>
<text x="957.52" y="995.8" font-size="29.8" text-anchor="start" font-family='"Liberation Sans", Arial, Helvetica, sans-serif'>10</text>
<text x="991.66" y="981.1" font-size="23.1" text-anchor="start" font-family='"Liberation Sans", Arial, Helvetica, sans-serif'>2</text>
<text x="47.02" y="663.56" font-size="29.8" text-anchor="start" font-family='"Liberation Sans", Arial, Helvetica, sans-serif'>10</text>
<text x="79.86" y="648.86" font-size="23.1" text-anchor="start" font-family='"Liberation Sans", Arial, Helvetica, sans-serif'>2</text>
<text x="47.02" y="774.2" font-size="29.8" text-anchor="start" font-family='"Liberation Sans", Arial, Helvetica, sans-serif'>10</text>
<text x="79.86" y="759.5" font-size="23.1" text-anchor="start" font-family='"Liberation Sans", Arial, Helvetica, sans-serif'>0</text>
<text x="39.33" y="884.84" font-size="29.8" text-anchor="start" font-family='"Liberation Sans", Arial, Helvetica, sans-serif'>10</text>
<text x="72.26" y="870.14" font-size="23.1" text-anchor="start" font-family='"Liberation Sans", Arial, Helvetica, sans-serif'>-2</text>
</g>
<g id="labels">
<text x="0" y="0" font-size="32.7" text-anchor="middle" font-family='"Liberation Sans", Arial, Helvetica, sans-serif' transform="translate(28.3,195) rotate(-90)">Complex Moduli [-]</text>
<text x="0" y="0" font-size="32.7" text-anchor="middle" font-family='"Liberation Sans", Arial, Helvetica, sans-serif' transform="translate(28.3,747) rotate(-90)">Complex Moduli [-]</text>
<text x="0" y="0" font-size="30.6" text-anchor="middle" font-family='"Liberation Serif", "DejaVu Serif", serif' font-style="italic" style="stroke:#000;stroke-width:0.25px" transform="translate(549.4,484.8) scale(0.99,1)">ω</text>
<text x="0" y="0" font-size="30.6" text-anchor="middle" font-family='"Liberation Serif", "DejaVu Serif", serif' font-style="italic" style="stroke:none" transform="translate(568.6,484.8) scale(1.4,1)">τ</text>
<text x="0" y="0" font-size="30.6" text-anchor="middle" font-family='"Liberation Serif", "DejaVu Serif", serif' font-style="italic" style="stroke:#000;stroke-width:0.25px" transform="translate(547.9,1037) scale(0.99,1)">ω</text>
</g>
<g id="legend-top">
<rect x="117.5" y="298.3" width="586.4" height="82.9" fill="#fff" stroke="#262626" stroke-width="1.6"/>
<line x1="120.2" y1="319.3" x2="163.4" y2="319.3" stroke="#000" stroke-width="1.9"/>
<text transform="translate(165.9,323.9) scale(1,1.08)" font-size="22.8" text-anchor="start" font-family='"Liberation Sans", Arial, Helvetica, sans-serif'>G</text>
<text transform="translate(184.9,334.9) scale(1,1.08)" font-size="18.2" text-anchor="start" font-family='"Liberation Sans", Arial, Helvetica, sans-serif'>A</text>
<text transform="translate(197.9,323.9) scale(1,1.08)" font-size="22.8" text-anchor="start" font-family='"Liberation Sans", Arial, Helvetica, sans-serif'>'</text>
<line x1="211.1" y1="319.3" x2="255.9" y2="319.3" stroke="#f00" stroke-width="2.9" stroke-dasharray="10.9 2.2 5.8 2.1"/>
<text transform="translate(257.6,323.9) scale(1,1.08)" font-size="22.8" text-anchor="start" font-family='"Liberation Sans", Arial, Helvetica, sans-serif'>G</text>
<text transform="translate(278.8,334.9) scale(1,1.08)" font-size="18.2" text-anchor="middle" font-family='"Liberation Sans", Arial, Helvetica, sans-serif'>I</text>
<text transform="translate(284.4,323.9) scale(1,1.08)" font-size="22.8" text-anchor="middle" font-family='"Liberation Sans", Arial, Helvetica, sans-serif'>'</text>
<text transform="translate(293,323.9) scale(1,1.08)" font-size="22.8" text-anchor="start" font-family='"Liberation Sans", Arial, Helvetica, sans-serif' letter-spacing="0.55">Spline</text>
<line x1="368.2" y1="319.3" x2="413.1" y2="319.3" stroke="#0f0" stroke-width="2.9" stroke-dasharray="10.9 2.2 5.8 2.1"/>
<text transform="translate(414.6,323.9) scale(1,1.08)" font-size="22.8" text-anchor="start" font-family='"Liberation Sans", Arial, Helvetica, sans-serif'>G</text>
<text transform="translate(435.9,334.9) scale(1,1.08)" font-size="18.2" text-anchor="middle" font-family='"Liberation Sans", Arial, Helvetica, sans-serif'>I</text>
<text transform="translate(441.5,323.9) scale(1,1.08)" font-size="22.8" text-anchor="middle" font-family='"Liberation Sans", Arial, Helvetica, sans-serif'>'</text>
<text transform="translate(451.6,323.9) scale(1,1.08)" font-size="22.8" text-anchor="start" font-family='"Liberation Sans", Arial, Helvetica, sans-serif' letter-spacing="0.55">PCHIP</text>
<line x1="531.9" y1="319.3" x2="576.7" y2="319.3" stroke="#00f" stroke-width="2.9" stroke-dasharray="10.9 2.2 5.8 2.1"/>
<text transform="translate(578.4,323.9) scale(1,1.08)" font-size="22.8" text-anchor="start" font-family='"Liberation Sans", Arial, Helvetica, sans-serif'>G</text>
<text transform="translate(599.8,334.9) scale(1,1.08)" font-size="18.2" text-anchor="middle" font-family='"Liberation Sans", Arial, Helvetica, sans-serif'>I</text>
<text transform="translate(605.4,323.9) scale(1,1.08)" font-size="22.8" text-anchor="middle" font-family='"Liberation Sans", Arial, Helvetica, sans-serif'>'</text>
<text transform="translate(614.9,323.9) scale(1,1.08)" font-size="22.8" text-anchor="start" font-family='"Liberation Sans", Arial, Helvetica, sans-serif' letter-spacing="0.35">Makima</text>
<line x1="120.2" y1="359.4" x2="163.4" y2="359.4" stroke="#000" stroke-width="1.9" stroke-dasharray="6.3 6.1"/>
<text transform="translate(165.9,363.9) scale(1,1.08)" font-size="22.8" text-anchor="start" font-family='"Liberation Sans", Arial, Helvetica, sans-serif'>G</text>
<text transform="translate(184.9,374.9) scale(1,1.08)" font-size="18.2" text-anchor="start" font-family='"Liberation Sans", Arial, Helvetica, sans-serif'>A</text>
<text transform="translate(198.7,363.9) scale(1,1.08)" font-size="22.8" text-anchor="start" font-family='"Liberation Sans", Arial, Helvetica, sans-serif'>"</text>
<line x1="211.1" y1="359.4" x2="255.9" y2="359.4" stroke="#f00" stroke-width="2.9" stroke-dasharray="3 2.25"/>
<text transform="translate(257.6,363.9) scale(1,1.08)" font-size="22.8" text-anchor="start" font-family='"Liberation Sans", Arial, Helvetica, sans-serif'>G</text>
<text transform="translate(278.8,374.9) scale(1,1.08)" font-size="18.2" text-anchor="middle" font-family='"Liberation Sans", Arial, Helvetica, sans-serif'>I</text>
<text transform="translate(286.7,363.9) scale(1,1.08)" font-size="22.8" text-anchor="middle" font-family='"Liberation Sans", Arial, Helvetica, sans-serif'>"</text>
<text transform="translate(297,363.9) scale(1,1.08)" font-size="22.8" text-anchor="start" font-family='"Liberation Sans", Arial, Helvetica, sans-serif' letter-spacing="0.55">Spline</text>
<line x1="368.2" y1="359.4" x2="413.1" y2="359.4" stroke="#0f0" stroke-width="2.9" stroke-dasharray="3 2.25"/>
<text transform="translate(414.6,363.9) scale(1,1.08)" font-size="22.8" text-anchor="start" font-family='"Liberation Sans", Arial, Helvetica, sans-serif'>G</text>
<text transform="translate(435.9,374.9) scale(1,1.08)" font-size="18.2" text-anchor="middle" font-family='"Liberation Sans", Arial, Helvetica, sans-serif'>I</text>
<text transform="translate(443.8,363.9) scale(1,1.08)" font-size="22.8" text-anchor="middle" font-family='"Liberation Sans", Arial, Helvetica, sans-serif'>"</text>
<text transform="translate(455.3,363.9) scale(1,1.08)" font-size="22.8" text-anchor="start" font-family='"Liberation Sans", Arial, Helvetica, sans-serif' letter-spacing="0.55">PCHIP</text>
<line x1="531.9" y1="359.4" x2="576.7" y2="359.4" stroke="#00f" stroke-width="2.9" stroke-dasharray="3 2.25"/>
<text transform="translate(578.4,363.9) scale(1,1.08)" font-size="22.8" text-anchor="start" font-family='"Liberation Sans", Arial, Helvetica, sans-serif'>G</text>
<text transform="translate(599.8,374.9) scale(1,1.08)" font-size="18.2" text-anchor="middle" font-family='"Liberation Sans", Arial, Helvetica, sans-serif'>I</text>
<text transform="translate(607.7,363.9) scale(1,1.08)" font-size="22.8" text-anchor="middle" font-family='"Liberation Sans", Arial, Helvetica, sans-serif'>"</text>
<text transform="translate(619,363.9) scale(1,1.08)" font-size="22.8" text-anchor="start" font-family='"Liberation Sans", Arial, Helvetica, sans-serif' letter-spacing="0.35">Makima</text>
</g>
<g id="legend-bottom">
<rect x="230.2" y="560.2" width="635.9" height="93.4" fill="#fff" stroke="#262626" stroke-width="1.6"/>
<line x1="233" y1="583.9" x2="276.7" y2="583.9" stroke="#000" stroke-width="3.2"/>
<text transform="translate(278.8,590) scale(1,1.08)" font-size="24.8" text-anchor="start" font-family='"Liberation Sans", Arial, Helvetica, sans-serif'>G</text>
<text transform="translate(307.8,602.6) scale(1,1.08)" font-size="21" text-anchor="middle" font-family='"Liberation Serif", "DejaVu Serif", serif'>Π</text>
<text transform="translate(317.7,590) scale(1,1.08)" font-size="24.8" text-anchor="middle" font-family='"Liberation Sans", Arial, Helvetica, sans-serif'>'</text>
<line x1="331.2" y1="583.9" x2="375" y2="583.9" stroke="#f00" stroke-width="2.9" stroke-dasharray="10.9 2.2 5.8 2.1"/>
<text transform="translate(376.9,590) scale(1,1.08)" font-size="24.8" text-anchor="start" font-family='"Liberation Sans", Arial, Helvetica, sans-serif'>G</text>
<text transform="translate(400.9,601.6) scale(1,1.08)" font-size="19.6" text-anchor="middle" font-family='"Liberation Sans", Arial, Helvetica, sans-serif'>I</text>
<text transform="translate(406.8,590) scale(1,1.08)" font-size="24.8" text-anchor="middle" font-family='"Liberation Sans", Arial, Helvetica, sans-serif'>'</text>
<text transform="translate(416.9,590) scale(1,1.08)" font-size="24.8" text-anchor="start" font-family='"Liberation Sans", Arial, Helvetica, sans-serif' letter-spacing="0.95">Spline</text>
<line x1="501.4" y1="583.9" x2="545.6" y2="583.9" stroke="#0f0" stroke-width="2.9" stroke-dasharray="10.9 2.2 5.8 2.1"/>
<text transform="translate(547.2,590) scale(1,1.08)" font-size="24.8" text-anchor="start" font-family='"Liberation Sans", Arial, Helvetica, sans-serif'>G</text>
<text transform="translate(571,601.6) scale(1,1.08)" font-size="19.6" text-anchor="middle" font-family='"Liberation Sans", Arial, Helvetica, sans-serif'>I</text>
<text transform="translate(576.9,590) scale(1,1.08)" font-size="24.8" text-anchor="middle" font-family='"Liberation Sans", Arial, Helvetica, sans-serif'>'</text>
<text transform="translate(588.1,590) scale(1,1.08)" font-size="24.8" text-anchor="start" font-family='"Liberation Sans", Arial, Helvetica, sans-serif' letter-spacing="1.4">PCHIP</text>
<line x1="679" y1="583.9" x2="723" y2="583.9" stroke="#00f" stroke-width="2.9" stroke-dasharray="10.9 2.2 5.8 2.1"/>
<text transform="translate(725.1,590) scale(1,1.08)" font-size="24.8" text-anchor="start" font-family='"Liberation Sans", Arial, Helvetica, sans-serif'>G</text>
<text transform="translate(748.9,601.6) scale(1,1.08)" font-size="19.6" text-anchor="middle" font-family='"Liberation Sans", Arial, Helvetica, sans-serif'>I</text>
<text transform="translate(754.8,590) scale(1,1.08)" font-size="24.8" text-anchor="middle" font-family='"Liberation Sans", Arial, Helvetica, sans-serif'>'</text>
<text transform="translate(765.6,590) scale(1,1.08)" font-size="24.8" text-anchor="start" font-family='"Liberation Sans", Arial, Helvetica, sans-serif' letter-spacing="1.1">Makima</text>
<line x1="233" y1="629.4" x2="276.7" y2="629.4" stroke="#000" stroke-width="3.2" stroke-dasharray="10.7 10.3"/>
<text transform="translate(278.8,635.3) scale(1,1.08)" font-size="24.8" text-anchor="start" font-family='"Liberation Sans", Arial, Helvetica, sans-serif'>G</text>
<text transform="translate(307.8,647.9) scale(1,1.08)" font-size="21" text-anchor="middle" font-family='"Liberation Serif", "DejaVu Serif", serif'>Π</text>
<text transform="translate(320.7,635.3) scale(1,1.08)" font-size="24.8" text-anchor="middle" font-family='"Liberation Sans", Arial, Helvetica, sans-serif'>"</text>
<line x1="331.2" y1="629.4" x2="375" y2="629.4" stroke="#f00" stroke-width="2.9" stroke-dasharray="3 2.25"/>
<text transform="translate(376.9,635.3) scale(1,1.08)" font-size="24.8" text-anchor="start" font-family='"Liberation Sans", Arial, Helvetica, sans-serif'>G</text>
<text transform="translate(400.9,646.9) scale(1,1.08)" font-size="19.6" text-anchor="middle" font-family='"Liberation Sans", Arial, Helvetica, sans-serif'>I</text>
<text transform="translate(408.9,635.3) scale(1,1.08)" font-size="24.8" text-anchor="middle" font-family='"Liberation Sans", Arial, Helvetica, sans-serif'>"</text>
<text transform="translate(421.5,635.3) scale(1,1.08)" font-size="24.8" text-anchor="start" font-family='"Liberation Sans", Arial, Helvetica, sans-serif' letter-spacing="0.95">Spline</text>
<line x1="501.4" y1="629.4" x2="545.6" y2="629.4" stroke="#0f0" stroke-width="2.9" stroke-dasharray="3 2.25"/>
<text transform="translate(547.2,635.3) scale(1,1.08)" font-size="24.8" text-anchor="start" font-family='"Liberation Sans", Arial, Helvetica, sans-serif'>G</text>
<text transform="translate(571,646.9) scale(1,1.08)" font-size="19.6" text-anchor="middle" font-family='"Liberation Sans", Arial, Helvetica, sans-serif'>I</text>
<text transform="translate(579,635.3) scale(1,1.08)" font-size="24.8" text-anchor="middle" font-family='"Liberation Sans", Arial, Helvetica, sans-serif'>"</text>
<text transform="translate(592.5,635.3) scale(1,1.08)" font-size="24.8" text-anchor="start" font-family='"Liberation Sans", Arial, Helvetica, sans-serif' letter-spacing="1.4">PCHIP</text>
<line x1="679" y1="629.4" x2="723" y2="629.4" stroke="#00f" stroke-width="2.9" stroke-dasharray="3 2.25"/>
<text transform="translate(725.1,635.3) scale(1,1.08)" font-size="24.8" text-anchor="start" font-family='"Liberation Sans", Arial, Helvetica, sans-serif'>G</text>
<text transform="translate(748.9,646.9) scale(1,1.08)" font-size="19.6" text-anchor="middle" font-family='"Liberation Sans", Arial, Helvetica, sans-serif'>I</text>
<text transform="translate(756.9,635.3) scale(1,1.08)" font-size="24.8" text-anchor="middle" font-family='"Liberation Sans", Arial, Helvetica, sans-serif'>"</text>
<text transform="translate(770.2,635.3) scale(1,1.08)" font-size="24.8" text-anchor="start" font-family='"Liberation Sans", Arial, Helvetica, sans-serif' letter-spacing="1.1">Makima</text>
</g>
</svg></body></html>
